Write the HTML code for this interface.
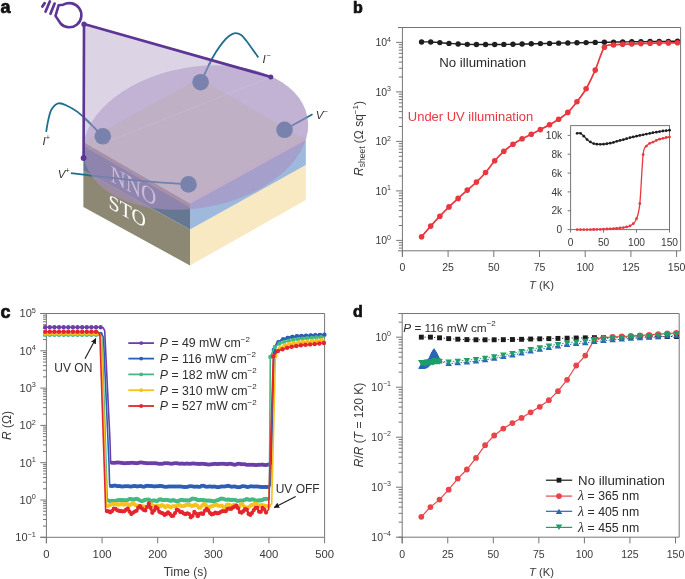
<!DOCTYPE html>
<html><head><meta charset="utf-8"><style>
html,body{margin:0;padding:0;background:#fff;}
svg{display:block;will-change:transform;}
</style></head><body>
<svg width="685" height="579" viewBox="0 0 685 579">
<rect width="685" height="579" fill="#fff"/>
<path d="M84 24 L271 77 L84 152 Z" fill="#dcd3e5"/>
<ellipse cx="195.69" cy="137.49" rx="113.6" ry="70.5" transform="rotate(-10.38 195.69 137.49)" fill="#e9eaf4"/>
<path d="M83.4 170.5 L190 229.6 L190 265.5 L83.4 207 Z" fill="#8d8874"/>
<path d="M83.4 142 L190 203.6 L190 229.6 L83.4 170.5 Z" fill="#667791"/>
<path d="M83.4 142 L190 203.6 L190 207.4 L83.4 146 Z" fill="#a69384"/>
<path d="M190 229.6 L305.8 165 L305.8 200 L190 265.5 Z" fill="#f8e9c2"/>
<path d="M190 203.6 L305.8 139.8 L305.8 165 L190 229.6 Z" fill="#9fb9dc"/>
<path d="M199.2 78.2 L305.8 139.8 L190 203.6 L83.4 142 Z" fill="#e2e3d0"/>
<path d="M190 203.6 L305.8 139.8 L305.8 136.2 L190 200.0 Z" fill="#ecd9cc"/>
<text transform="matrix(0.9 0.5 0 1 110.6 181.0)" font-family='"Liberation Serif", serif' font-size="23.5" fill="#ffffff">NNO</text>
<text transform="matrix(0.97 0.535 0 1 108.6 207.6)" font-family='"Liberation Serif", serif' font-size="20.5" fill="#ffffff">STO</text>
<path d="M46.2 131.8 C46.53 129.9 47.32 124.12 48.2 120.4 C49.08 116.68 49.78 112.35 51.5 109.5 C53.22 106.65 55.75 103.85 58.5 103.3 C61.25 102.75 64.83 104.77 68 106.2 C71.17 107.63 74.33 109.53 77.5 111.9 C80.67 114.27 84.15 117.72 87 120.4 C89.85 123.08 91.97 125.33 94.6 128 C97.23 130.67 101.43 135 102.8 136.4" fill="none" stroke="#1e6f8f" stroke-width="1.8"/>
<path d="M200.8 82 C202.62 78.23 209.12 64.48 211.7 59.4 C214.28 54.32 214.45 54.35 216.3 51.5 C218.15 48.65 220.62 44.92 222.8 42.3 C224.98 39.68 227.32 37.33 229.4 35.8 C231.48 34.27 233.33 33.22 235.3 33.1 C237.27 32.98 239.33 33.78 241.2 35.1 C243.07 36.42 244.73 38.82 246.5 41 C248.27 43.18 249.83 45.47 251.8 48.2 C253.77 50.93 257.22 55.87 258.3 57.4" fill="none" stroke="#1e6f8f" stroke-width="1.8"/>
<path d="M70.9 173.1 C73.88 173.47 81.45 174.45 88.8 175.3 C96.15 176.15 104.8 177.13 115 178.2 C125.2 179.27 137.73 180.67 150 181.7 C162.27 182.73 182.17 183.95 188.6 184.4" fill="none" stroke="#1e6f8f" stroke-width="1.8"/>
<line x1="284.5" y1="129.8" x2="312.5" y2="114.3" stroke="#1e6f8f" stroke-width="1.8"/>
<mask id="conem" maskUnits="userSpaceOnUse" x="0" y="0" width="685" height="579"><path d="M84 24 L271 77 L84 160 Z" fill="#fff"/><ellipse cx="195.69" cy="137.49" rx="113.6" ry="70.5" transform="rotate(-10.38 195.69 137.49)" fill="#000"/></mask>
<g mask="url(#conem)"><path d="M46.2 131.8 C46.53 129.9 47.32 124.12 48.2 120.4 C49.08 116.68 49.78 112.35 51.5 109.5 C53.22 106.65 55.75 103.85 58.5 103.3 C61.25 102.75 64.83 104.77 68 106.2 C71.17 107.63 74.33 109.53 77.5 111.9 C80.67 114.27 84.15 117.72 87 120.4 C89.85 123.08 91.97 125.33 94.6 128 C97.23 130.67 101.43 135 102.8 136.4" fill="none" stroke="#5b80a3" stroke-width="1.9"/><path d="M200.8 82 C202.62 78.23 209.12 64.48 211.7 59.4 C214.28 54.32 214.45 54.35 216.3 51.5 C218.15 48.65 220.62 44.92 222.8 42.3 C224.98 39.68 227.32 37.33 229.4 35.8 C231.48 34.27 233.33 33.22 235.3 33.1 C237.27 32.98 239.33 33.78 241.2 35.1 C243.07 36.42 244.73 38.82 246.5 41 C248.27 43.18 249.83 45.47 251.8 48.2 C253.77 50.93 257.22 55.87 258.3 57.4" fill="none" stroke="#5b80a3" stroke-width="1.9"/></g>
<circle cx="102.8" cy="136.3" r="8.3" fill="#33728f"/>
<circle cx="200.6" cy="82.2" r="8.3" fill="#33728f"/>
<circle cx="284.5" cy="129.8" r="8.3" fill="#33728f"/>
<circle cx="188.5" cy="184.4" r="8.3" fill="#33728f"/>
<ellipse cx="195.69" cy="137.49" rx="113.6" ry="70.5" transform="rotate(-10.38 195.69 137.49)" fill="rgb(169,142,192)" fill-opacity="0.6"/>
<line x1="84" y1="151" x2="271" y2="77" stroke="#ffffff" stroke-opacity="0.08" stroke-width="1.2"/>
<path d="M271 77 L84 24 L83.6 158" fill="none" stroke="#5c3595" stroke-width="2.65" stroke-linejoin="round"/>
<circle cx="84" cy="24.2" r="2.6" fill="#5c3595"/>
<circle cx="270.8" cy="77" r="2.5" fill="#5c3595"/>
<circle cx="83.6" cy="158" r="2.9" fill="#5c3595"/>
<path d="M58.6 5.3 L55.5 15.9 L60.74 23.76 A12.1 12.1 0 1 0 63.25 4.72 Z" fill="none" stroke="#5c3595" stroke-width="2.6" stroke-linejoin="round"/>
<line x1="42.4" y1="6.6" x2="44.6" y2="3.2" stroke="#5c3595" stroke-width="2.8" stroke-linecap="round"/>
<line x1="45.6" y1="11.5" x2="49.8" y2="1.5" stroke="#5c3595" stroke-width="2.7" stroke-linecap="round"/>
<line x1="50.5" y1="13.8" x2="54.6" y2="3.6" stroke="#5c3595" stroke-width="2.7" stroke-linecap="round"/>
<text x="42.6" y="145.1" font-family='"Liberation Sans", sans-serif' font-size="11.5" font-style="italic" fill="#333">I<tspan font-style="normal" font-size="7.5" dy="-5" dx="0">+</tspan></text>
<text x="57.8" y="177.5" font-family='"Liberation Sans", sans-serif' font-size="11.5" font-style="italic" fill="#333">V<tspan font-style="normal" font-size="7.5" dy="-5" dx="0">+</tspan></text>
<text x="262.4" y="63.3" font-family='"Liberation Sans", sans-serif' font-size="11.5" font-style="italic" fill="#333">I<tspan font-style="normal" font-size="7.5" dy="-5" dx="0.9">−</tspan></text>
<text x="315.8" y="118.6" font-family='"Liberation Sans", sans-serif' font-size="11.5" font-style="italic" fill="#333">V<tspan font-style="normal" font-size="7.5" dy="-5" dx="0">−</tspan></text>
<text x="0.5" y="13.3" font-size="18" text-anchor="start" fill="#111" font-family='"Liberation Sans", sans-serif' font-weight="bold" stroke="#111" stroke-width="0.7">a</text>
<text x="352.9" y="13" font-size="16" text-anchor="start" fill="#111" font-family='"Liberation Sans", sans-serif' font-weight="bold" stroke="#111" stroke-width="0.7">b</text>
<text x="0.5" y="317.9" font-size="18" text-anchor="start" fill="#111" font-family='"Liberation Sans", sans-serif' font-weight="bold" stroke="#111" stroke-width="0.7">c</text>
<text x="352.9" y="317.4" font-size="16" text-anchor="start" fill="#111" font-family='"Liberation Sans", sans-serif' font-weight="bold" stroke="#111" stroke-width="0.7">d</text>
<path d="M398.0 27.5 H680.6 V250.8 H398.0" fill="none" stroke="#767676" stroke-width="1"/>
<line x1="402.4" y1="27.5" x2="402.4" y2="257" stroke="#767676" stroke-width="1" />
<line x1="396.1" y1="240.4" x2="402.4" y2="240.4" stroke="#767676" stroke-width="1" />
<text x="391" y="244.1" font-size="10.5" text-anchor="end" fill="#3a3a3a" font-family='"Liberation Sans", sans-serif' >10<tspan dy="-4.6" font-size="7">0</tspan></text>
<line x1="398.8" y1="225.5" x2="402.4" y2="225.5" stroke="#767676" stroke-width="1" />
<line x1="398.8" y1="216.78" x2="402.4" y2="216.78" stroke="#767676" stroke-width="1" />
<line x1="398.8" y1="210.6" x2="402.4" y2="210.6" stroke="#767676" stroke-width="1" />
<line x1="398.8" y1="205.8" x2="402.4" y2="205.8" stroke="#767676" stroke-width="1" />
<line x1="398.8" y1="201.88" x2="402.4" y2="201.88" stroke="#767676" stroke-width="1" />
<line x1="398.8" y1="198.57" x2="402.4" y2="198.57" stroke="#767676" stroke-width="1" />
<line x1="398.8" y1="195.7" x2="402.4" y2="195.7" stroke="#767676" stroke-width="1" />
<line x1="398.8" y1="193.16" x2="402.4" y2="193.16" stroke="#767676" stroke-width="1" />
<line x1="396.1" y1="190.9" x2="402.4" y2="190.9" stroke="#767676" stroke-width="1" />
<text x="391" y="194.6" font-size="10.5" text-anchor="end" fill="#3a3a3a" font-family='"Liberation Sans", sans-serif' >10<tspan dy="-4.6" font-size="7">1</tspan></text>
<line x1="398.8" y1="176" x2="402.4" y2="176" stroke="#767676" stroke-width="1" />
<line x1="398.8" y1="167.28" x2="402.4" y2="167.28" stroke="#767676" stroke-width="1" />
<line x1="398.8" y1="161.1" x2="402.4" y2="161.1" stroke="#767676" stroke-width="1" />
<line x1="398.8" y1="156.3" x2="402.4" y2="156.3" stroke="#767676" stroke-width="1" />
<line x1="398.8" y1="152.38" x2="402.4" y2="152.38" stroke="#767676" stroke-width="1" />
<line x1="398.8" y1="149.07" x2="402.4" y2="149.07" stroke="#767676" stroke-width="1" />
<line x1="398.8" y1="146.2" x2="402.4" y2="146.2" stroke="#767676" stroke-width="1" />
<line x1="398.8" y1="143.66" x2="402.4" y2="143.66" stroke="#767676" stroke-width="1" />
<line x1="396.1" y1="141.4" x2="402.4" y2="141.4" stroke="#767676" stroke-width="1" />
<text x="391" y="145.1" font-size="10.5" text-anchor="end" fill="#3a3a3a" font-family='"Liberation Sans", sans-serif' >10<tspan dy="-4.6" font-size="7">2</tspan></text>
<line x1="398.8" y1="126.5" x2="402.4" y2="126.5" stroke="#767676" stroke-width="1" />
<line x1="398.8" y1="117.78" x2="402.4" y2="117.78" stroke="#767676" stroke-width="1" />
<line x1="398.8" y1="111.6" x2="402.4" y2="111.6" stroke="#767676" stroke-width="1" />
<line x1="398.8" y1="106.8" x2="402.4" y2="106.8" stroke="#767676" stroke-width="1" />
<line x1="398.8" y1="102.88" x2="402.4" y2="102.88" stroke="#767676" stroke-width="1" />
<line x1="398.8" y1="99.57" x2="402.4" y2="99.57" stroke="#767676" stroke-width="1" />
<line x1="398.8" y1="96.7" x2="402.4" y2="96.7" stroke="#767676" stroke-width="1" />
<line x1="398.8" y1="94.16" x2="402.4" y2="94.16" stroke="#767676" stroke-width="1" />
<line x1="396.1" y1="91.9" x2="402.4" y2="91.9" stroke="#767676" stroke-width="1" />
<text x="391" y="95.6" font-size="10.5" text-anchor="end" fill="#3a3a3a" font-family='"Liberation Sans", sans-serif' >10<tspan dy="-4.6" font-size="7">3</tspan></text>
<line x1="398.8" y1="77" x2="402.4" y2="77" stroke="#767676" stroke-width="1" />
<line x1="398.8" y1="68.28" x2="402.4" y2="68.28" stroke="#767676" stroke-width="1" />
<line x1="398.8" y1="62.1" x2="402.4" y2="62.1" stroke="#767676" stroke-width="1" />
<line x1="398.8" y1="57.3" x2="402.4" y2="57.3" stroke="#767676" stroke-width="1" />
<line x1="398.8" y1="53.38" x2="402.4" y2="53.38" stroke="#767676" stroke-width="1" />
<line x1="398.8" y1="50.07" x2="402.4" y2="50.07" stroke="#767676" stroke-width="1" />
<line x1="398.8" y1="47.2" x2="402.4" y2="47.2" stroke="#767676" stroke-width="1" />
<line x1="398.8" y1="44.66" x2="402.4" y2="44.66" stroke="#767676" stroke-width="1" />
<line x1="396.1" y1="42.4" x2="402.4" y2="42.4" stroke="#767676" stroke-width="1" />
<text x="391" y="46.1" font-size="10.5" text-anchor="end" fill="#3a3a3a" font-family='"Liberation Sans", sans-serif' >10<tspan dy="-4.6" font-size="7">4</tspan></text>
<line x1="398.8" y1="248.07" x2="402.4" y2="248.07" stroke="#767676" stroke-width="1" />
<line x1="398.8" y1="245.2" x2="402.4" y2="245.2" stroke="#767676" stroke-width="1" />
<line x1="398.8" y1="242.66" x2="402.4" y2="242.66" stroke="#767676" stroke-width="1" />
<line x1="402.4" y1="250.8" x2="402.4" y2="257" stroke="#767676" stroke-width="1" />
<text x="402.4" y="271.2" font-size="10.5" text-anchor="middle" fill="#3a3a3a" font-family='"Liberation Sans", sans-serif' >0</text>
<line x1="448.1" y1="250.8" x2="448.1" y2="257" stroke="#767676" stroke-width="1" />
<text x="448.1" y="271.2" font-size="10.5" text-anchor="middle" fill="#3a3a3a" font-family='"Liberation Sans", sans-serif' >25</text>
<line x1="493.8" y1="250.8" x2="493.8" y2="257" stroke="#767676" stroke-width="1" />
<text x="493.8" y="271.2" font-size="10.5" text-anchor="middle" fill="#3a3a3a" font-family='"Liberation Sans", sans-serif' >50</text>
<line x1="539.5" y1="250.8" x2="539.5" y2="257" stroke="#767676" stroke-width="1" />
<text x="539.5" y="271.2" font-size="10.5" text-anchor="middle" fill="#3a3a3a" font-family='"Liberation Sans", sans-serif' >75</text>
<line x1="585.2" y1="250.8" x2="585.2" y2="257" stroke="#767676" stroke-width="1" />
<text x="585.2" y="271.2" font-size="10.5" text-anchor="middle" fill="#3a3a3a" font-family='"Liberation Sans", sans-serif' >100</text>
<line x1="630.9" y1="250.8" x2="630.9" y2="257" stroke="#767676" stroke-width="1" />
<text x="630.9" y="271.2" font-size="10.5" text-anchor="middle" fill="#3a3a3a" font-family='"Liberation Sans", sans-serif' >125</text>
<line x1="676.6" y1="250.8" x2="676.6" y2="257" stroke="#767676" stroke-width="1" />
<text x="676.6" y="271.2" font-size="10.5" text-anchor="middle" fill="#3a3a3a" font-family='"Liberation Sans", sans-serif' >150</text>
<text x="541.5" y="289.3" font-size="11.2" text-anchor="middle" fill="#3a3a3a" font-family='"Liberation Sans", sans-serif' ><tspan font-style="italic">T</tspan> (K)</text>
<text transform="translate(362.8 138.5) rotate(-90)" font-size="12" text-anchor="middle" fill="#3a3a3a" font-family='"Liberation Sans", sans-serif'><tspan font-style="italic">R</tspan><tspan font-size="8.5" dy="2.5">sheet</tspan><tspan dy="-2.5"> (Ω sq</tspan><tspan font-size="8" dy="-4.5">−1</tspan><tspan dy="4.5">)</tspan></text>
<path d="M421.58 41.94 C423.1 41.94 427.67 41.83 430.72 41.94 C433.77 42.05 436.81 42.34 439.86 42.58 C442.91 42.83 445.95 43.16 449 43.39 C452.05 43.62 455.09 43.8 458.14 43.96 C461.19 44.12 464.23 44.26 467.28 44.36 C470.33 44.45 473.37 44.49 476.42 44.52 C479.47 44.55 482.51 44.55 485.56 44.55 C488.61 44.55 491.65 44.55 494.7 44.52 C497.75 44.5 500.79 44.45 503.84 44.41 C506.89 44.36 509.93 44.32 512.98 44.26 C516.03 44.21 519.07 44.15 522.12 44.07 C525.17 43.99 528.21 43.88 531.26 43.8 C534.31 43.72 537.35 43.66 540.4 43.59 C543.45 43.53 546.49 43.48 549.54 43.41 C552.59 43.34 555.63 43.24 558.68 43.17 C561.73 43.09 564.77 43.01 567.82 42.94 C570.87 42.88 573.91 42.83 576.96 42.77 C580.01 42.71 583.05 42.65 586.1 42.59 C589.15 42.54 592.19 42.48 595.24 42.42 C598.29 42.37 601.33 42.32 604.38 42.27 C607.43 42.22 610.47 42.15 613.52 42.1 C616.57 42.05 619.61 42.02 622.66 41.97 C625.71 41.93 628.75 41.86 631.8 41.81 C634.85 41.76 637.89 41.72 640.94 41.68 C643.99 41.64 647.03 41.6 650.08 41.56 C653.13 41.52 656.17 41.47 659.22 41.43 C662.27 41.4 665.31 41.38 668.36 41.35 C671.41 41.32 675.98 41.28 677.5 41.27" fill="none" stroke="#1e1e1e" stroke-width="1.4"/>
<circle cx="421.58" cy="41.94" r="2.7" fill="#1e1e1e"/>
<circle cx="430.72" cy="41.94" r="2.7" fill="#1e1e1e"/>
<circle cx="439.86" cy="42.58" r="2.7" fill="#1e1e1e"/>
<circle cx="449" cy="43.39" r="2.7" fill="#1e1e1e"/>
<circle cx="458.14" cy="43.96" r="2.7" fill="#1e1e1e"/>
<circle cx="467.28" cy="44.36" r="2.7" fill="#1e1e1e"/>
<circle cx="476.42" cy="44.52" r="2.7" fill="#1e1e1e"/>
<circle cx="485.56" cy="44.55" r="2.7" fill="#1e1e1e"/>
<circle cx="494.7" cy="44.52" r="2.7" fill="#1e1e1e"/>
<circle cx="503.84" cy="44.41" r="2.7" fill="#1e1e1e"/>
<circle cx="512.98" cy="44.26" r="2.7" fill="#1e1e1e"/>
<circle cx="522.12" cy="44.07" r="2.7" fill="#1e1e1e"/>
<circle cx="531.26" cy="43.8" r="2.7" fill="#1e1e1e"/>
<circle cx="540.4" cy="43.59" r="2.7" fill="#1e1e1e"/>
<circle cx="549.54" cy="43.41" r="2.7" fill="#1e1e1e"/>
<circle cx="558.68" cy="43.17" r="2.7" fill="#1e1e1e"/>
<circle cx="567.82" cy="42.94" r="2.7" fill="#1e1e1e"/>
<circle cx="576.96" cy="42.77" r="2.7" fill="#1e1e1e"/>
<circle cx="586.1" cy="42.59" r="2.7" fill="#1e1e1e"/>
<circle cx="595.24" cy="42.42" r="2.7" fill="#1e1e1e"/>
<circle cx="604.38" cy="42.27" r="2.7" fill="#1e1e1e"/>
<circle cx="613.52" cy="42.1" r="2.7" fill="#1e1e1e"/>
<circle cx="622.66" cy="41.97" r="2.7" fill="#1e1e1e"/>
<circle cx="631.8" cy="41.81" r="2.7" fill="#1e1e1e"/>
<circle cx="640.94" cy="41.68" r="2.7" fill="#1e1e1e"/>
<circle cx="650.08" cy="41.56" r="2.7" fill="#1e1e1e"/>
<circle cx="659.22" cy="41.43" r="2.7" fill="#1e1e1e"/>
<circle cx="668.36" cy="41.35" r="2.7" fill="#1e1e1e"/>
<circle cx="677.5" cy="41.27" r="2.7" fill="#1e1e1e"/>
<path d="M421.58 236.7 C423.1 234.93 427.67 229.52 430.72 226.1 C433.77 222.68 436.81 219.4 439.86 216.2 C442.91 213 445.95 209.87 449 206.9 C452.05 203.93 455.09 201.2 458.14 198.4 C461.19 195.6 464.23 192.82 467.28 190.1 C470.33 187.38 473.37 185.03 476.42 182.1 C479.47 179.17 482.51 176.05 485.56 172.5 C488.61 168.95 491.65 164.33 494.7 160.8 C497.75 157.27 500.79 154.05 503.84 151.3 C506.89 148.55 509.93 146.38 512.98 144.3 C516.03 142.22 519.07 140.48 522.12 138.8 C525.17 137.12 528.21 135.73 531.26 134.2 C534.31 132.67 537.35 131.17 540.4 129.6 C543.45 128.03 546.49 126.52 549.54 124.8 C552.59 123.08 555.63 121.37 558.68 119.3 C561.73 117.23 564.77 115.33 567.82 112.4 C570.87 109.47 573.91 105.65 576.96 101.7 C580.01 97.75 583.05 93.97 586.1 88.7 C589.15 83.43 592.19 77 595.24 70.1 C598.29 63.2 601.33 51.48 604.38 47.3 C607.43 43.12 610.47 45.5 613.52 45 C616.57 44.5 619.61 44.47 622.66 44.3 C625.71 44.13 628.75 44.12 631.8 44 C634.85 43.88 637.89 43.72 640.94 43.6 C643.99 43.48 647.03 43.38 650.08 43.3 C653.13 43.22 656.17 43.17 659.22 43.1 C662.27 43.03 665.31 42.95 668.36 42.9 C671.41 42.85 675.98 42.82 677.5 42.8" fill="none" stroke="#e8373f" stroke-width="1.7"/>
<circle cx="421.58" cy="236.7" r="2.8" fill="#e8373f"/>
<circle cx="430.72" cy="226.1" r="2.8" fill="#e8373f"/>
<circle cx="439.86" cy="216.2" r="2.8" fill="#e8373f"/>
<circle cx="449" cy="206.9" r="2.8" fill="#e8373f"/>
<circle cx="458.14" cy="198.4" r="2.8" fill="#e8373f"/>
<circle cx="467.28" cy="190.1" r="2.8" fill="#e8373f"/>
<circle cx="476.42" cy="182.1" r="2.8" fill="#e8373f"/>
<circle cx="485.56" cy="172.5" r="2.8" fill="#e8373f"/>
<circle cx="494.7" cy="160.8" r="2.8" fill="#e8373f"/>
<circle cx="503.84" cy="151.3" r="2.8" fill="#e8373f"/>
<circle cx="512.98" cy="144.3" r="2.8" fill="#e8373f"/>
<circle cx="522.12" cy="138.8" r="2.8" fill="#e8373f"/>
<circle cx="531.26" cy="134.2" r="2.8" fill="#e8373f"/>
<circle cx="540.4" cy="129.6" r="2.8" fill="#e8373f"/>
<circle cx="549.54" cy="124.8" r="2.8" fill="#e8373f"/>
<circle cx="558.68" cy="119.3" r="2.8" fill="#e8373f"/>
<circle cx="567.82" cy="112.4" r="2.8" fill="#e8373f"/>
<circle cx="576.96" cy="101.7" r="2.8" fill="#e8373f"/>
<circle cx="586.1" cy="88.7" r="2.8" fill="#e8373f"/>
<circle cx="595.24" cy="70.1" r="2.8" fill="#e8373f"/>
<circle cx="604.38" cy="47.3" r="2.8" fill="#e8373f"/>
<circle cx="613.52" cy="45" r="2.8" fill="#e8373f"/>
<circle cx="622.66" cy="44.3" r="2.8" fill="#e8373f"/>
<circle cx="631.8" cy="44" r="2.8" fill="#e8373f"/>
<circle cx="640.94" cy="43.6" r="2.8" fill="#e8373f"/>
<circle cx="650.08" cy="43.3" r="2.8" fill="#e8373f"/>
<circle cx="659.22" cy="43.1" r="2.8" fill="#e8373f"/>
<circle cx="668.36" cy="42.9" r="2.8" fill="#e8373f"/>
<circle cx="677.5" cy="42.8" r="2.8" fill="#e8373f"/>
<text x="439.2" y="66.6" font-size="12" text-anchor="start" fill="#2a2a2a" font-family='"Liberation Sans", sans-serif' textLength="86.9" lengthAdjust="spacingAndGlyphs">No illumination</text>
<text x="407.8" y="121.2" font-size="12" text-anchor="start" fill="#e8373f" font-family='"Liberation Sans", sans-serif' textLength="125.5" lengthAdjust="spacingAndGlyphs">Under UV illumination</text>
<rect x="570.6" y="125.6" width="98.89999999999998" height="104.0" fill="#fff" stroke="#767676" stroke-width="1"/>
<line x1="567.6" y1="229.6" x2="570.6" y2="229.6" stroke="#767676" stroke-width="1" />
<text x="562.2" y="233.2" font-size="10.2" text-anchor="end" fill="#3a3a3a" font-family='"Liberation Sans", sans-serif' >0</text>
<line x1="567.6" y1="210.75" x2="570.6" y2="210.75" stroke="#767676" stroke-width="1" />
<text x="562.2" y="214.35" font-size="10.2" text-anchor="end" fill="#3a3a3a" font-family='"Liberation Sans", sans-serif' >2k</text>
<line x1="567.6" y1="191.9" x2="570.6" y2="191.9" stroke="#767676" stroke-width="1" />
<text x="562.2" y="195.5" font-size="10.2" text-anchor="end" fill="#3a3a3a" font-family='"Liberation Sans", sans-serif' >4k</text>
<line x1="567.6" y1="173.05" x2="570.6" y2="173.05" stroke="#767676" stroke-width="1" />
<text x="562.2" y="176.65" font-size="10.2" text-anchor="end" fill="#3a3a3a" font-family='"Liberation Sans", sans-serif' >6k</text>
<line x1="567.6" y1="154.2" x2="570.6" y2="154.2" stroke="#767676" stroke-width="1" />
<text x="562.2" y="157.8" font-size="10.2" text-anchor="end" fill="#3a3a3a" font-family='"Liberation Sans", sans-serif' >8k</text>
<line x1="567.6" y1="135.35" x2="570.6" y2="135.35" stroke="#767676" stroke-width="1" />
<text x="562.2" y="138.95" font-size="10.2" text-anchor="end" fill="#3a3a3a" font-family='"Liberation Sans", sans-serif' >10k</text>
<line x1="570.6" y1="229.6" x2="570.6" y2="232.6" stroke="#767676" stroke-width="1" />
<text x="570.6" y="246.3" font-size="10.2" text-anchor="middle" fill="#3a3a3a" font-family='"Liberation Sans", sans-serif' >0</text>
<line x1="603.57" y1="229.6" x2="603.57" y2="232.6" stroke="#767676" stroke-width="1" />
<text x="603.57" y="246.3" font-size="10.2" text-anchor="middle" fill="#3a3a3a" font-family='"Liberation Sans", sans-serif' >50</text>
<line x1="636.53" y1="229.6" x2="636.53" y2="232.6" stroke="#767676" stroke-width="1" />
<text x="636.53" y="246.3" font-size="10.2" text-anchor="middle" fill="#3a3a3a" font-family='"Liberation Sans", sans-serif' >100</text>
<line x1="669.5" y1="229.6" x2="669.5" y2="232.6" stroke="#767676" stroke-width="1" />
<text x="669.5" y="246.3" font-size="10.2" text-anchor="middle" fill="#3a3a3a" font-family='"Liberation Sans", sans-serif' >150</text>
<path d="M577.19 133.3 C577.74 133.3 579.39 132.83 580.49 133.3 C581.59 133.78 582.69 135.1 583.79 136.15 C584.89 137.2 585.98 138.63 587.08 139.59 C588.18 140.56 589.28 141.29 590.38 141.95 C591.48 142.61 592.58 143.17 593.68 143.55 C594.78 143.93 595.87 144.08 596.97 144.21 C598.07 144.34 599.17 144.3 600.27 144.3 C601.37 144.3 602.47 144.3 603.57 144.21 C604.67 144.12 605.76 143.92 606.86 143.75 C607.96 143.57 609.06 143.4 610.16 143.17 C611.26 142.95 612.36 142.71 613.46 142.4 C614.56 142.09 615.65 141.61 616.75 141.29 C617.85 140.96 618.95 140.71 620.05 140.44 C621.15 140.17 622.25 139.98 623.35 139.69 C624.45 139.39 625.54 138.98 626.64 138.65 C627.74 138.32 628.84 137.99 629.94 137.71 C631.04 137.42 632.14 137.2 633.24 136.95 C634.34 136.7 635.43 136.45 636.53 136.2 C637.63 135.95 638.73 135.68 639.83 135.44 C640.93 135.21 642.03 135.02 643.13 134.78 C644.23 134.55 645.32 134.25 646.42 134.03 C647.52 133.81 648.62 133.68 649.72 133.46 C650.82 133.25 651.92 132.93 653.02 132.71 C654.12 132.49 655.21 132.33 656.31 132.15 C657.41 131.96 658.51 131.77 659.61 131.58 C660.71 131.39 661.81 131.17 662.91 131.01 C664.01 130.86 665.1 130.76 666.2 130.64 C667.3 130.51 668.95 130.32 669.5 130.26" fill="none" stroke="#1e1e1e" stroke-width="1.2"/>
<circle cx="577.19" cy="133.3" r="1.4" fill="#1e1e1e"/>
<circle cx="580.49" cy="133.3" r="1.4" fill="#1e1e1e"/>
<circle cx="583.79" cy="136.15" r="1.4" fill="#1e1e1e"/>
<circle cx="587.08" cy="139.59" r="1.4" fill="#1e1e1e"/>
<circle cx="590.38" cy="141.95" r="1.4" fill="#1e1e1e"/>
<circle cx="593.68" cy="143.55" r="1.4" fill="#1e1e1e"/>
<circle cx="596.97" cy="144.21" r="1.4" fill="#1e1e1e"/>
<circle cx="600.27" cy="144.3" r="1.4" fill="#1e1e1e"/>
<circle cx="603.57" cy="144.21" r="1.4" fill="#1e1e1e"/>
<circle cx="606.86" cy="143.75" r="1.4" fill="#1e1e1e"/>
<circle cx="610.16" cy="143.17" r="1.4" fill="#1e1e1e"/>
<circle cx="613.46" cy="142.4" r="1.4" fill="#1e1e1e"/>
<circle cx="616.75" cy="141.29" r="1.4" fill="#1e1e1e"/>
<circle cx="620.05" cy="140.44" r="1.4" fill="#1e1e1e"/>
<circle cx="623.35" cy="139.69" r="1.4" fill="#1e1e1e"/>
<circle cx="626.64" cy="138.65" r="1.4" fill="#1e1e1e"/>
<circle cx="629.94" cy="137.71" r="1.4" fill="#1e1e1e"/>
<circle cx="633.24" cy="136.95" r="1.4" fill="#1e1e1e"/>
<circle cx="636.53" cy="136.2" r="1.4" fill="#1e1e1e"/>
<circle cx="639.83" cy="135.44" r="1.4" fill="#1e1e1e"/>
<circle cx="643.13" cy="134.78" r="1.4" fill="#1e1e1e"/>
<circle cx="646.42" cy="134.03" r="1.4" fill="#1e1e1e"/>
<circle cx="649.72" cy="133.46" r="1.4" fill="#1e1e1e"/>
<circle cx="653.02" cy="132.71" r="1.4" fill="#1e1e1e"/>
<circle cx="656.31" cy="132.15" r="1.4" fill="#1e1e1e"/>
<circle cx="659.61" cy="131.58" r="1.4" fill="#1e1e1e"/>
<circle cx="662.91" cy="131.01" r="1.4" fill="#1e1e1e"/>
<circle cx="666.2" cy="130.64" r="1.4" fill="#1e1e1e"/>
<circle cx="669.5" cy="130.26" r="1.4" fill="#1e1e1e"/>
<path d="M577.19 229.59 C577.74 229.59 579.39 229.58 580.49 229.58 C581.59 229.58 582.69 229.58 583.79 229.57 C584.89 229.57 585.98 229.56 587.08 229.56 C588.18 229.55 589.28 229.54 590.38 229.53 C591.48 229.52 592.58 229.51 593.68 229.5 C594.78 229.49 595.87 229.48 596.97 229.46 C598.07 229.44 599.17 229.42 600.27 229.38 C601.37 229.34 602.47 229.28 603.57 229.22 C604.67 229.16 605.76 229.08 606.86 229.01 C607.96 228.93 609.06 228.85 610.16 228.78 C611.26 228.7 612.36 228.62 613.46 228.54 C614.56 228.45 615.65 228.38 616.75 228.28 C617.85 228.19 618.95 228.09 620.05 227.97 C621.15 227.85 622.25 227.73 623.35 227.56 C624.45 227.39 625.54 227.23 626.64 226.97 C627.74 226.7 628.84 226.52 629.94 225.97 C631.04 225.41 632.14 224.84 633.24 223.63 C634.34 222.41 635.43 222 636.53 218.66 C637.63 215.33 638.73 214.3 639.83 203.62 C640.93 192.93 642.03 164.15 643.13 154.56 C644.23 144.97 645.32 147.96 646.42 146.09 C647.52 144.21 648.62 143.99 649.72 143.32 C650.82 142.66 651.92 142.59 653.02 142.11 C654.12 141.63 655.21 140.95 656.31 140.47 C657.41 139.98 658.51 139.56 659.61 139.21 C660.71 138.86 661.81 138.65 662.91 138.37 C664.01 138.09 665.1 137.73 666.2 137.52 C667.3 137.3 668.95 137.16 669.5 137.09" fill="none" stroke="#e8373f" stroke-width="1.3"/>
<circle cx="577.19" cy="229.59" r="1.4" fill="#e8373f"/>
<circle cx="580.49" cy="229.58" r="1.4" fill="#e8373f"/>
<circle cx="583.79" cy="229.57" r="1.4" fill="#e8373f"/>
<circle cx="587.08" cy="229.56" r="1.4" fill="#e8373f"/>
<circle cx="590.38" cy="229.53" r="1.4" fill="#e8373f"/>
<circle cx="593.68" cy="229.5" r="1.4" fill="#e8373f"/>
<circle cx="596.97" cy="229.46" r="1.4" fill="#e8373f"/>
<circle cx="600.27" cy="229.38" r="1.4" fill="#e8373f"/>
<circle cx="603.57" cy="229.22" r="1.4" fill="#e8373f"/>
<circle cx="606.86" cy="229.01" r="1.4" fill="#e8373f"/>
<circle cx="610.16" cy="228.78" r="1.4" fill="#e8373f"/>
<circle cx="613.46" cy="228.54" r="1.4" fill="#e8373f"/>
<circle cx="616.75" cy="228.28" r="1.4" fill="#e8373f"/>
<circle cx="620.05" cy="227.97" r="1.4" fill="#e8373f"/>
<circle cx="623.35" cy="227.56" r="1.4" fill="#e8373f"/>
<circle cx="626.64" cy="226.97" r="1.4" fill="#e8373f"/>
<circle cx="629.94" cy="225.97" r="1.4" fill="#e8373f"/>
<circle cx="633.24" cy="223.63" r="1.4" fill="#e8373f"/>
<circle cx="636.53" cy="218.66" r="1.4" fill="#e8373f"/>
<circle cx="639.83" cy="203.62" r="1.4" fill="#e8373f"/>
<circle cx="643.13" cy="154.56" r="1.4" fill="#e8373f"/>
<circle cx="646.42" cy="146.09" r="1.4" fill="#e8373f"/>
<circle cx="649.72" cy="143.32" r="1.4" fill="#e8373f"/>
<circle cx="653.02" cy="142.11" r="1.4" fill="#e8373f"/>
<circle cx="656.31" cy="140.47" r="1.4" fill="#e8373f"/>
<circle cx="659.61" cy="139.21" r="1.4" fill="#e8373f"/>
<circle cx="662.91" cy="138.37" r="1.4" fill="#e8373f"/>
<circle cx="666.2" cy="137.52" r="1.4" fill="#e8373f"/>
<circle cx="669.5" cy="137.09" r="1.4" fill="#e8373f"/>
<path d="M40.3 313.5 H324.6 V537.3 H40.3" fill="none" stroke="#767676" stroke-width="1"/>
<line x1="46.4" y1="313.5" x2="46.4" y2="543.3" stroke="#767676" stroke-width="1" />
<line x1="40.3" y1="537.3" x2="46.4" y2="537.3" stroke="#767676" stroke-width="1" />
<text x="35.9" y="541.1" font-size="11" text-anchor="end" fill="#3a3a3a" font-family='"Liberation Sans", sans-serif' >10<tspan dy="-4.6" font-size="7.3">−1</tspan></text>
<line x1="43" y1="526.07" x2="46.4" y2="526.07" stroke="#767676" stroke-width="1" />
<line x1="43" y1="519.5" x2="46.4" y2="519.5" stroke="#767676" stroke-width="1" />
<line x1="43" y1="514.84" x2="46.4" y2="514.84" stroke="#767676" stroke-width="1" />
<line x1="43" y1="511.23" x2="46.4" y2="511.23" stroke="#767676" stroke-width="1" />
<line x1="43" y1="508.27" x2="46.4" y2="508.27" stroke="#767676" stroke-width="1" />
<line x1="43" y1="505.78" x2="46.4" y2="505.78" stroke="#767676" stroke-width="1" />
<line x1="43" y1="503.61" x2="46.4" y2="503.61" stroke="#767676" stroke-width="1" />
<line x1="43" y1="501.71" x2="46.4" y2="501.71" stroke="#767676" stroke-width="1" />
<line x1="40.3" y1="500" x2="46.4" y2="500" stroke="#767676" stroke-width="1" />
<text x="35.9" y="503.8" font-size="11" text-anchor="end" fill="#3a3a3a" font-family='"Liberation Sans", sans-serif' >10<tspan dy="-4.6" font-size="7.3">0</tspan></text>
<line x1="43" y1="488.77" x2="46.4" y2="488.77" stroke="#767676" stroke-width="1" />
<line x1="43" y1="482.2" x2="46.4" y2="482.2" stroke="#767676" stroke-width="1" />
<line x1="43" y1="477.54" x2="46.4" y2="477.54" stroke="#767676" stroke-width="1" />
<line x1="43" y1="473.93" x2="46.4" y2="473.93" stroke="#767676" stroke-width="1" />
<line x1="43" y1="470.97" x2="46.4" y2="470.97" stroke="#767676" stroke-width="1" />
<line x1="43" y1="468.48" x2="46.4" y2="468.48" stroke="#767676" stroke-width="1" />
<line x1="43" y1="466.31" x2="46.4" y2="466.31" stroke="#767676" stroke-width="1" />
<line x1="43" y1="464.41" x2="46.4" y2="464.41" stroke="#767676" stroke-width="1" />
<line x1="40.3" y1="462.7" x2="46.4" y2="462.7" stroke="#767676" stroke-width="1" />
<text x="35.9" y="466.5" font-size="11" text-anchor="end" fill="#3a3a3a" font-family='"Liberation Sans", sans-serif' >10<tspan dy="-4.6" font-size="7.3">1</tspan></text>
<line x1="43" y1="451.47" x2="46.4" y2="451.47" stroke="#767676" stroke-width="1" />
<line x1="43" y1="444.9" x2="46.4" y2="444.9" stroke="#767676" stroke-width="1" />
<line x1="43" y1="440.24" x2="46.4" y2="440.24" stroke="#767676" stroke-width="1" />
<line x1="43" y1="436.63" x2="46.4" y2="436.63" stroke="#767676" stroke-width="1" />
<line x1="43" y1="433.67" x2="46.4" y2="433.67" stroke="#767676" stroke-width="1" />
<line x1="43" y1="431.18" x2="46.4" y2="431.18" stroke="#767676" stroke-width="1" />
<line x1="43" y1="429.01" x2="46.4" y2="429.01" stroke="#767676" stroke-width="1" />
<line x1="43" y1="427.11" x2="46.4" y2="427.11" stroke="#767676" stroke-width="1" />
<line x1="40.3" y1="425.4" x2="46.4" y2="425.4" stroke="#767676" stroke-width="1" />
<text x="35.9" y="429.2" font-size="11" text-anchor="end" fill="#3a3a3a" font-family='"Liberation Sans", sans-serif' >10<tspan dy="-4.6" font-size="7.3">2</tspan></text>
<line x1="43" y1="414.17" x2="46.4" y2="414.17" stroke="#767676" stroke-width="1" />
<line x1="43" y1="407.6" x2="46.4" y2="407.6" stroke="#767676" stroke-width="1" />
<line x1="43" y1="402.94" x2="46.4" y2="402.94" stroke="#767676" stroke-width="1" />
<line x1="43" y1="399.33" x2="46.4" y2="399.33" stroke="#767676" stroke-width="1" />
<line x1="43" y1="396.37" x2="46.4" y2="396.37" stroke="#767676" stroke-width="1" />
<line x1="43" y1="393.88" x2="46.4" y2="393.88" stroke="#767676" stroke-width="1" />
<line x1="43" y1="391.71" x2="46.4" y2="391.71" stroke="#767676" stroke-width="1" />
<line x1="43" y1="389.81" x2="46.4" y2="389.81" stroke="#767676" stroke-width="1" />
<line x1="40.3" y1="388.1" x2="46.4" y2="388.1" stroke="#767676" stroke-width="1" />
<text x="35.9" y="391.9" font-size="11" text-anchor="end" fill="#3a3a3a" font-family='"Liberation Sans", sans-serif' >10<tspan dy="-4.6" font-size="7.3">3</tspan></text>
<line x1="43" y1="376.87" x2="46.4" y2="376.87" stroke="#767676" stroke-width="1" />
<line x1="43" y1="370.3" x2="46.4" y2="370.3" stroke="#767676" stroke-width="1" />
<line x1="43" y1="365.64" x2="46.4" y2="365.64" stroke="#767676" stroke-width="1" />
<line x1="43" y1="362.03" x2="46.4" y2="362.03" stroke="#767676" stroke-width="1" />
<line x1="43" y1="359.07" x2="46.4" y2="359.07" stroke="#767676" stroke-width="1" />
<line x1="43" y1="356.58" x2="46.4" y2="356.58" stroke="#767676" stroke-width="1" />
<line x1="43" y1="354.41" x2="46.4" y2="354.41" stroke="#767676" stroke-width="1" />
<line x1="43" y1="352.51" x2="46.4" y2="352.51" stroke="#767676" stroke-width="1" />
<line x1="40.3" y1="350.8" x2="46.4" y2="350.8" stroke="#767676" stroke-width="1" />
<text x="35.9" y="354.6" font-size="11" text-anchor="end" fill="#3a3a3a" font-family='"Liberation Sans", sans-serif' >10<tspan dy="-4.6" font-size="7.3">4</tspan></text>
<line x1="43" y1="339.57" x2="46.4" y2="339.57" stroke="#767676" stroke-width="1" />
<line x1="43" y1="333" x2="46.4" y2="333" stroke="#767676" stroke-width="1" />
<line x1="43" y1="328.34" x2="46.4" y2="328.34" stroke="#767676" stroke-width="1" />
<line x1="43" y1="324.73" x2="46.4" y2="324.73" stroke="#767676" stroke-width="1" />
<line x1="43" y1="321.77" x2="46.4" y2="321.77" stroke="#767676" stroke-width="1" />
<line x1="43" y1="319.28" x2="46.4" y2="319.28" stroke="#767676" stroke-width="1" />
<line x1="43" y1="317.11" x2="46.4" y2="317.11" stroke="#767676" stroke-width="1" />
<line x1="43" y1="315.21" x2="46.4" y2="315.21" stroke="#767676" stroke-width="1" />
<line x1="40.3" y1="313.5" x2="46.4" y2="313.5" stroke="#767676" stroke-width="1" />
<text x="35.9" y="317.3" font-size="11" text-anchor="end" fill="#3a3a3a" font-family='"Liberation Sans", sans-serif' >10<tspan dy="-4.6" font-size="7.3">5</tspan></text>
<line x1="46.4" y1="537.3" x2="46.4" y2="543.3" stroke="#767676" stroke-width="1" />
<text x="46.4" y="557.9" font-size="11.3" text-anchor="middle" fill="#3a3a3a" font-family='"Liberation Sans", sans-serif' >0</text>
<line x1="102.04" y1="537.3" x2="102.04" y2="543.3" stroke="#767676" stroke-width="1" />
<text x="102.04" y="557.9" font-size="11.3" text-anchor="middle" fill="#3a3a3a" font-family='"Liberation Sans", sans-serif' >100</text>
<line x1="157.68" y1="537.3" x2="157.68" y2="543.3" stroke="#767676" stroke-width="1" />
<text x="157.68" y="557.9" font-size="11.3" text-anchor="middle" fill="#3a3a3a" font-family='"Liberation Sans", sans-serif' >200</text>
<line x1="213.32" y1="537.3" x2="213.32" y2="543.3" stroke="#767676" stroke-width="1" />
<text x="213.32" y="557.9" font-size="11.3" text-anchor="middle" fill="#3a3a3a" font-family='"Liberation Sans", sans-serif' >300</text>
<line x1="268.96" y1="537.3" x2="268.96" y2="543.3" stroke="#767676" stroke-width="1" />
<text x="268.96" y="557.9" font-size="11.3" text-anchor="middle" fill="#3a3a3a" font-family='"Liberation Sans", sans-serif' >400</text>
<line x1="324.6" y1="537.3" x2="324.6" y2="543.3" stroke="#767676" stroke-width="1" />
<text x="324.6" y="557.9" font-size="11.3" text-anchor="middle" fill="#3a3a3a" font-family='"Liberation Sans", sans-serif' >500</text>
<text x="185.5" y="575.8" font-size="12" text-anchor="middle" fill="#3a3a3a" font-family='"Liberation Sans", sans-serif' >Time (s)</text>
<text transform="translate(10.9 425.4) rotate(-90)" font-size="12" text-anchor="middle" fill="#3a3a3a" font-family='"Liberation Sans", sans-serif'><tspan font-style="italic">R</tspan> (Ω)</text>
<path d="M45.2 327.3 L49.82 327.3 L54.44 327.3 L59.06 327.3 L63.68 327.3 L68.3 327.3 L72.92 327.3 L77.54 327.3 L82.16 327.3 L86.78 327.3 L91.4 327.3 L96.02 327.3 L100.64 327.3 L103.2 327.7 L104.7 330.8 L110 440.7 L110.6 461.2 L111.8 462.73 L113.55 462.8 L115.3 462.73 L117.05 462.6 L118.8 462.55 L120.55 462.8 L122.3 463.12 L124.05 463.19 L125.8 463.19 L127.55 463.12 L129.3 463.08 L131.05 462.87 L132.8 462.74 L134.55 463.08 L136.3 463.29 L138.05 463.04 L139.8 462.59 L141.55 462.46 L143.3 462.7 L145.05 462.99 L146.8 463.19 L148.55 463.27 L150.3 463.26 L152.05 463.19 L153.8 463.31 L155.55 463.34 L157.3 463.39 L159.05 463.69 L160.8 463.78 L162.55 463.63 L164.3 463.31 L166.05 463.16 L167.8 463.28 L169.55 463.48 L171.3 463.64 L173.05 463.59 L174.8 463.37 L176.55 463.25 L178.3 463.5 L180.05 463.73 L181.8 463.61 L183.55 463.67 L185.3 463.64 L187.05 463.43 L188.8 463.71 L190.55 463.82 L192.3 463.43 L194.05 463.5 L195.8 463.67 L197.55 463.7 L199.3 463.88 L201.05 463.77 L202.8 463.67 L204.55 464.02 L206.3 464.28 L208.05 464.4 L209.8 464.44 L211.55 464.26 L213.3 463.97 L215.05 463.86 L216.8 464.02 L218.55 464 L220.3 463.84 L222.05 463.73 L223.8 463.78 L225.55 464.12 L227.3 464.24 L229.05 463.79 L230.8 463.77 L232.55 464.34 L234.3 464.71 L236.05 464.42 L237.8 463.75 L239.55 463.68 L241.3 464.15 L243.05 464.19 L244.8 464.24 L246.55 464.69 L248.3 464.86 L250.05 464.7 L251.8 464.66 L253.55 464.85 L255.3 465.05 L257.05 464.97 L258.8 464.87 L260.55 464.67 L262.3 464.53 L264.05 464.92 L265.8 465.12 L267.55 464.76 L269.3 464.33 L271.3 463.3 L274.2 352 L276.3 344.5 L281.2 340.3 L286 338.4 L291.4 337.2 L296.3 336.5 L305 335.9 L315 335.4 L324.6 335" fill="none" stroke="#6b3fa6" stroke-width="1.6" stroke-linejoin="round"/>
<circle cx="45.2" cy="327.3" r="2.2" fill="#6b3fa6"/>
<circle cx="49.82" cy="327.3" r="2.2" fill="#6b3fa6"/>
<circle cx="54.44" cy="327.3" r="2.2" fill="#6b3fa6"/>
<circle cx="59.06" cy="327.3" r="2.2" fill="#6b3fa6"/>
<circle cx="63.68" cy="327.3" r="2.2" fill="#6b3fa6"/>
<circle cx="68.3" cy="327.3" r="2.2" fill="#6b3fa6"/>
<circle cx="72.92" cy="327.3" r="2.2" fill="#6b3fa6"/>
<circle cx="77.54" cy="327.3" r="2.2" fill="#6b3fa6"/>
<circle cx="82.16" cy="327.3" r="2.2" fill="#6b3fa6"/>
<circle cx="86.78" cy="327.3" r="2.2" fill="#6b3fa6"/>
<circle cx="91.4" cy="327.3" r="2.2" fill="#6b3fa6"/>
<circle cx="96.02" cy="327.3" r="2.2" fill="#6b3fa6"/>
<circle cx="100.64" cy="327.3" r="2.2" fill="#6b3fa6"/>
<circle cx="274.2" cy="352" r="2.2" fill="#6b3fa6"/>
<circle cx="278.8" cy="342.36" r="2.2" fill="#6b3fa6"/>
<circle cx="283.4" cy="339.43" r="2.2" fill="#6b3fa6"/>
<circle cx="288" cy="337.96" r="2.2" fill="#6b3fa6"/>
<circle cx="292.6" cy="337.03" r="2.2" fill="#6b3fa6"/>
<circle cx="297.2" cy="336.44" r="2.2" fill="#6b3fa6"/>
<circle cx="301.8" cy="336.12" r="2.2" fill="#6b3fa6"/>
<circle cx="306.4" cy="335.83" r="2.2" fill="#6b3fa6"/>
<circle cx="311" cy="335.6" r="2.2" fill="#6b3fa6"/>
<circle cx="315.6" cy="335.37" r="2.2" fill="#6b3fa6"/>
<circle cx="320.2" cy="335.18" r="2.2" fill="#6b3fa6"/>
<path d="M111.8 462.73 L113.55 462.8 L115.3 462.73 L117.05 462.6 L118.8 462.55 L120.55 462.8 L122.3 463.12 L124.05 463.19 L125.8 463.19 L127.55 463.12 L129.3 463.08 L131.05 462.87 L132.8 462.74 L134.55 463.08 L136.3 463.29 L138.05 463.04 L139.8 462.59 L141.55 462.46 L143.3 462.7 L145.05 462.99 L146.8 463.19 L148.55 463.27 L150.3 463.26 L152.05 463.19 L153.8 463.31 L155.55 463.34 L157.3 463.39 L159.05 463.69 L160.8 463.78 L162.55 463.63 L164.3 463.31 L166.05 463.16 L167.8 463.28 L169.55 463.48 L171.3 463.64 L173.05 463.59 L174.8 463.37 L176.55 463.25 L178.3 463.5 L180.05 463.73 L181.8 463.61 L183.55 463.67 L185.3 463.64 L187.05 463.43 L188.8 463.71 L190.55 463.82 L192.3 463.43 L194.05 463.5 L195.8 463.67 L197.55 463.7 L199.3 463.88 L201.05 463.77 L202.8 463.67 L204.55 464.02 L206.3 464.28 L208.05 464.4 L209.8 464.44 L211.55 464.26 L213.3 463.97 L215.05 463.86 L216.8 464.02 L218.55 464 L220.3 463.84 L222.05 463.73 L223.8 463.78 L225.55 464.12 L227.3 464.24 L229.05 463.79 L230.8 463.77 L232.55 464.34 L234.3 464.71 L236.05 464.42 L237.8 463.75 L239.55 463.68 L241.3 464.15 L243.05 464.19 L244.8 464.24 L246.55 464.69 L248.3 464.86 L250.05 464.7 L251.8 464.66 L253.55 464.85 L255.3 465.05 L257.05 464.97 L258.8 464.87 L260.55 464.67 L262.3 464.53 L264.05 464.92 L265.8 465.12 L267.55 464.76 L269.3 464.33" fill="none" stroke="#6b3fa6" stroke-width="2.2" stroke-linejoin="round"/>
<circle cx="111.8" cy="462.73" r="2.0" fill="#6b3fa6"/>
<circle cx="113.55" cy="462.8" r="2.0" fill="#6b3fa6"/>
<circle cx="115.3" cy="462.73" r="2.0" fill="#6b3fa6"/>
<circle cx="117.05" cy="462.6" r="2.0" fill="#6b3fa6"/>
<circle cx="118.8" cy="462.55" r="2.0" fill="#6b3fa6"/>
<circle cx="120.55" cy="462.8" r="2.0" fill="#6b3fa6"/>
<circle cx="122.3" cy="463.12" r="2.0" fill="#6b3fa6"/>
<circle cx="124.05" cy="463.19" r="2.0" fill="#6b3fa6"/>
<circle cx="125.8" cy="463.19" r="2.0" fill="#6b3fa6"/>
<circle cx="127.55" cy="463.12" r="2.0" fill="#6b3fa6"/>
<circle cx="129.3" cy="463.08" r="2.0" fill="#6b3fa6"/>
<circle cx="131.05" cy="462.87" r="2.0" fill="#6b3fa6"/>
<circle cx="132.8" cy="462.74" r="2.0" fill="#6b3fa6"/>
<circle cx="134.55" cy="463.08" r="2.0" fill="#6b3fa6"/>
<circle cx="136.3" cy="463.29" r="2.0" fill="#6b3fa6"/>
<circle cx="138.05" cy="463.04" r="2.0" fill="#6b3fa6"/>
<circle cx="139.8" cy="462.59" r="2.0" fill="#6b3fa6"/>
<circle cx="141.55" cy="462.46" r="2.0" fill="#6b3fa6"/>
<circle cx="143.3" cy="462.7" r="2.0" fill="#6b3fa6"/>
<circle cx="145.05" cy="462.99" r="2.0" fill="#6b3fa6"/>
<circle cx="146.8" cy="463.19" r="2.0" fill="#6b3fa6"/>
<circle cx="148.55" cy="463.27" r="2.0" fill="#6b3fa6"/>
<circle cx="150.3" cy="463.26" r="2.0" fill="#6b3fa6"/>
<circle cx="152.05" cy="463.19" r="2.0" fill="#6b3fa6"/>
<circle cx="153.8" cy="463.31" r="2.0" fill="#6b3fa6"/>
<circle cx="155.55" cy="463.34" r="2.0" fill="#6b3fa6"/>
<circle cx="157.3" cy="463.39" r="2.0" fill="#6b3fa6"/>
<circle cx="159.05" cy="463.69" r="2.0" fill="#6b3fa6"/>
<circle cx="160.8" cy="463.78" r="2.0" fill="#6b3fa6"/>
<circle cx="162.55" cy="463.63" r="2.0" fill="#6b3fa6"/>
<circle cx="164.3" cy="463.31" r="2.0" fill="#6b3fa6"/>
<circle cx="166.05" cy="463.16" r="2.0" fill="#6b3fa6"/>
<circle cx="167.8" cy="463.28" r="2.0" fill="#6b3fa6"/>
<circle cx="169.55" cy="463.48" r="2.0" fill="#6b3fa6"/>
<circle cx="171.3" cy="463.64" r="2.0" fill="#6b3fa6"/>
<circle cx="173.05" cy="463.59" r="2.0" fill="#6b3fa6"/>
<circle cx="174.8" cy="463.37" r="2.0" fill="#6b3fa6"/>
<circle cx="176.55" cy="463.25" r="2.0" fill="#6b3fa6"/>
<circle cx="178.3" cy="463.5" r="2.0" fill="#6b3fa6"/>
<circle cx="180.05" cy="463.73" r="2.0" fill="#6b3fa6"/>
<circle cx="181.8" cy="463.61" r="2.0" fill="#6b3fa6"/>
<circle cx="183.55" cy="463.67" r="2.0" fill="#6b3fa6"/>
<circle cx="185.3" cy="463.64" r="2.0" fill="#6b3fa6"/>
<circle cx="187.05" cy="463.43" r="2.0" fill="#6b3fa6"/>
<circle cx="188.8" cy="463.71" r="2.0" fill="#6b3fa6"/>
<circle cx="190.55" cy="463.82" r="2.0" fill="#6b3fa6"/>
<circle cx="192.3" cy="463.43" r="2.0" fill="#6b3fa6"/>
<circle cx="194.05" cy="463.5" r="2.0" fill="#6b3fa6"/>
<circle cx="195.8" cy="463.67" r="2.0" fill="#6b3fa6"/>
<circle cx="197.55" cy="463.7" r="2.0" fill="#6b3fa6"/>
<circle cx="199.3" cy="463.88" r="2.0" fill="#6b3fa6"/>
<circle cx="201.05" cy="463.77" r="2.0" fill="#6b3fa6"/>
<circle cx="202.8" cy="463.67" r="2.0" fill="#6b3fa6"/>
<circle cx="204.55" cy="464.02" r="2.0" fill="#6b3fa6"/>
<circle cx="206.3" cy="464.28" r="2.0" fill="#6b3fa6"/>
<circle cx="208.05" cy="464.4" r="2.0" fill="#6b3fa6"/>
<circle cx="209.8" cy="464.44" r="2.0" fill="#6b3fa6"/>
<circle cx="211.55" cy="464.26" r="2.0" fill="#6b3fa6"/>
<circle cx="213.3" cy="463.97" r="2.0" fill="#6b3fa6"/>
<circle cx="215.05" cy="463.86" r="2.0" fill="#6b3fa6"/>
<circle cx="216.8" cy="464.02" r="2.0" fill="#6b3fa6"/>
<circle cx="218.55" cy="464" r="2.0" fill="#6b3fa6"/>
<circle cx="220.3" cy="463.84" r="2.0" fill="#6b3fa6"/>
<circle cx="222.05" cy="463.73" r="2.0" fill="#6b3fa6"/>
<circle cx="223.8" cy="463.78" r="2.0" fill="#6b3fa6"/>
<circle cx="225.55" cy="464.12" r="2.0" fill="#6b3fa6"/>
<circle cx="227.3" cy="464.24" r="2.0" fill="#6b3fa6"/>
<circle cx="229.05" cy="463.79" r="2.0" fill="#6b3fa6"/>
<circle cx="230.8" cy="463.77" r="2.0" fill="#6b3fa6"/>
<circle cx="232.55" cy="464.34" r="2.0" fill="#6b3fa6"/>
<circle cx="234.3" cy="464.71" r="2.0" fill="#6b3fa6"/>
<circle cx="236.05" cy="464.42" r="2.0" fill="#6b3fa6"/>
<circle cx="237.8" cy="463.75" r="2.0" fill="#6b3fa6"/>
<circle cx="239.55" cy="463.68" r="2.0" fill="#6b3fa6"/>
<circle cx="241.3" cy="464.15" r="2.0" fill="#6b3fa6"/>
<circle cx="243.05" cy="464.19" r="2.0" fill="#6b3fa6"/>
<circle cx="244.8" cy="464.24" r="2.0" fill="#6b3fa6"/>
<circle cx="246.55" cy="464.69" r="2.0" fill="#6b3fa6"/>
<circle cx="248.3" cy="464.86" r="2.0" fill="#6b3fa6"/>
<circle cx="250.05" cy="464.7" r="2.0" fill="#6b3fa6"/>
<circle cx="251.8" cy="464.66" r="2.0" fill="#6b3fa6"/>
<circle cx="253.55" cy="464.85" r="2.0" fill="#6b3fa6"/>
<circle cx="255.3" cy="465.05" r="2.0" fill="#6b3fa6"/>
<circle cx="257.05" cy="464.97" r="2.0" fill="#6b3fa6"/>
<circle cx="258.8" cy="464.87" r="2.0" fill="#6b3fa6"/>
<circle cx="260.55" cy="464.67" r="2.0" fill="#6b3fa6"/>
<circle cx="262.3" cy="464.53" r="2.0" fill="#6b3fa6"/>
<circle cx="264.05" cy="464.92" r="2.0" fill="#6b3fa6"/>
<circle cx="265.8" cy="465.12" r="2.0" fill="#6b3fa6"/>
<circle cx="267.55" cy="464.76" r="2.0" fill="#6b3fa6"/>
<circle cx="269.3" cy="464.33" r="2.0" fill="#6b3fa6"/>
<path d="M45.2 334 L49.82 334 L54.44 334 L59.06 334 L63.68 334 L68.3 334 L72.92 334 L77.54 334 L82.16 334 L86.78 334 L91.4 334 L96.02 334 L100.64 334 L102 334.4 L103.5 337.5 L109 464 L109.6 484.5 L110.8 485.95 L112.55 485.91 L114.3 485.57 L116.05 485.86 L117.8 486.13 L119.55 486.04 L121.3 486.44 L123.05 486.45 L124.8 486.16 L126.55 486.26 L128.3 486.36 L130.05 486.4 L131.8 486.38 L133.55 486.03 L135.3 486.06 L137.05 486.4 L138.8 486.18 L140.55 486.03 L142.3 486.53 L144.05 486.69 L145.8 486.06 L147.55 485.69 L149.3 485.93 L151.05 486.1 L152.8 486.31 L154.55 486.46 L156.3 486.31 L158.05 486.29 L159.8 485.93 L161.55 485.93 L163.3 486.51 L165.05 486.84 L166.8 486.76 L168.55 486.54 L170.3 486.42 L172.05 486.46 L173.8 486.49 L175.55 486.4 L177.3 486.48 L179.05 486.56 L180.8 486.55 L182.55 486.68 L184.3 486.95 L186.05 487.12 L187.8 486.72 L189.55 486.26 L191.3 486.23 L193.05 486.49 L194.8 486.65 L196.55 486.52 L198.3 486.78 L200.05 486.69 L201.8 485.78 L203.55 485.79 L205.3 486.44 L207.05 486.68 L208.8 486.56 L210.55 486.5 L212.3 486.69 L214.05 486.62 L215.8 486.77 L217.55 487.25 L219.3 486.93 L221.05 486.42 L222.8 486.42 L224.55 486.48 L226.3 486.13 L228.05 485.68 L229.8 486.2 L231.55 486.67 L233.3 486.4 L235.05 486.57 L236.8 487.04 L238.55 487.26 L240.3 486.98 L242.05 486.31 L243.8 486.26 L245.55 486.61 L247.3 486.98 L249.05 486.72 L250.8 486.21 L252.55 486.44 L254.3 486.54 L256.05 486.51 L257.8 486.41 L259.55 486.76 L261.3 487.12 L263.05 486.92 L264.8 486.92 L266.55 487.07 L268.3 487.02 L270.5 485.3 L273.8 350 L276 344.2 L281 340.1 L286 338.2 L291.4 337 L296.3 336.3 L305 335.7 L315 335.2 L324.6 334.8" fill="none" stroke="#2b5fb4" stroke-width="1.6" stroke-linejoin="round"/>
<circle cx="45.2" cy="334" r="2.2" fill="#2b5fb4"/>
<circle cx="49.82" cy="334" r="2.2" fill="#2b5fb4"/>
<circle cx="54.44" cy="334" r="2.2" fill="#2b5fb4"/>
<circle cx="59.06" cy="334" r="2.2" fill="#2b5fb4"/>
<circle cx="63.68" cy="334" r="2.2" fill="#2b5fb4"/>
<circle cx="68.3" cy="334" r="2.2" fill="#2b5fb4"/>
<circle cx="72.92" cy="334" r="2.2" fill="#2b5fb4"/>
<circle cx="77.54" cy="334" r="2.2" fill="#2b5fb4"/>
<circle cx="82.16" cy="334" r="2.2" fill="#2b5fb4"/>
<circle cx="86.78" cy="334" r="2.2" fill="#2b5fb4"/>
<circle cx="91.4" cy="334" r="2.2" fill="#2b5fb4"/>
<circle cx="96.02" cy="334" r="2.2" fill="#2b5fb4"/>
<circle cx="100.64" cy="334" r="2.2" fill="#2b5fb4"/>
<circle cx="273.8" cy="350" r="2.2" fill="#2b5fb4"/>
<circle cx="278.4" cy="342.23" r="2.2" fill="#2b5fb4"/>
<circle cx="283" cy="339.34" r="2.2" fill="#2b5fb4"/>
<circle cx="287.6" cy="337.84" r="2.2" fill="#2b5fb4"/>
<circle cx="292.2" cy="336.89" r="2.2" fill="#2b5fb4"/>
<circle cx="296.8" cy="336.27" r="2.2" fill="#2b5fb4"/>
<circle cx="301.4" cy="335.95" r="2.2" fill="#2b5fb4"/>
<circle cx="306" cy="335.65" r="2.2" fill="#2b5fb4"/>
<circle cx="310.6" cy="335.42" r="2.2" fill="#2b5fb4"/>
<circle cx="315.2" cy="335.19" r="2.2" fill="#2b5fb4"/>
<circle cx="319.8" cy="335" r="2.2" fill="#2b5fb4"/>
<circle cx="324.4" cy="334.81" r="2.2" fill="#2b5fb4"/>
<path d="M110.8 485.95 L112.55 485.91 L114.3 485.57 L116.05 485.86 L117.8 486.13 L119.55 486.04 L121.3 486.44 L123.05 486.45 L124.8 486.16 L126.55 486.26 L128.3 486.36 L130.05 486.4 L131.8 486.38 L133.55 486.03 L135.3 486.06 L137.05 486.4 L138.8 486.18 L140.55 486.03 L142.3 486.53 L144.05 486.69 L145.8 486.06 L147.55 485.69 L149.3 485.93 L151.05 486.1 L152.8 486.31 L154.55 486.46 L156.3 486.31 L158.05 486.29 L159.8 485.93 L161.55 485.93 L163.3 486.51 L165.05 486.84 L166.8 486.76 L168.55 486.54 L170.3 486.42 L172.05 486.46 L173.8 486.49 L175.55 486.4 L177.3 486.48 L179.05 486.56 L180.8 486.55 L182.55 486.68 L184.3 486.95 L186.05 487.12 L187.8 486.72 L189.55 486.26 L191.3 486.23 L193.05 486.49 L194.8 486.65 L196.55 486.52 L198.3 486.78 L200.05 486.69 L201.8 485.78 L203.55 485.79 L205.3 486.44 L207.05 486.68 L208.8 486.56 L210.55 486.5 L212.3 486.69 L214.05 486.62 L215.8 486.77 L217.55 487.25 L219.3 486.93 L221.05 486.42 L222.8 486.42 L224.55 486.48 L226.3 486.13 L228.05 485.68 L229.8 486.2 L231.55 486.67 L233.3 486.4 L235.05 486.57 L236.8 487.04 L238.55 487.26 L240.3 486.98 L242.05 486.31 L243.8 486.26 L245.55 486.61 L247.3 486.98 L249.05 486.72 L250.8 486.21 L252.55 486.44 L254.3 486.54 L256.05 486.51 L257.8 486.41 L259.55 486.76 L261.3 487.12 L263.05 486.92 L264.8 486.92 L266.55 487.07 L268.3 487.02" fill="none" stroke="#2b5fb4" stroke-width="2.2" stroke-linejoin="round"/>
<circle cx="110.8" cy="485.95" r="2.0" fill="#2b5fb4"/>
<circle cx="112.55" cy="485.91" r="2.0" fill="#2b5fb4"/>
<circle cx="114.3" cy="485.57" r="2.0" fill="#2b5fb4"/>
<circle cx="116.05" cy="485.86" r="2.0" fill="#2b5fb4"/>
<circle cx="117.8" cy="486.13" r="2.0" fill="#2b5fb4"/>
<circle cx="119.55" cy="486.04" r="2.0" fill="#2b5fb4"/>
<circle cx="121.3" cy="486.44" r="2.0" fill="#2b5fb4"/>
<circle cx="123.05" cy="486.45" r="2.0" fill="#2b5fb4"/>
<circle cx="124.8" cy="486.16" r="2.0" fill="#2b5fb4"/>
<circle cx="126.55" cy="486.26" r="2.0" fill="#2b5fb4"/>
<circle cx="128.3" cy="486.36" r="2.0" fill="#2b5fb4"/>
<circle cx="130.05" cy="486.4" r="2.0" fill="#2b5fb4"/>
<circle cx="131.8" cy="486.38" r="2.0" fill="#2b5fb4"/>
<circle cx="133.55" cy="486.03" r="2.0" fill="#2b5fb4"/>
<circle cx="135.3" cy="486.06" r="2.0" fill="#2b5fb4"/>
<circle cx="137.05" cy="486.4" r="2.0" fill="#2b5fb4"/>
<circle cx="138.8" cy="486.18" r="2.0" fill="#2b5fb4"/>
<circle cx="140.55" cy="486.03" r="2.0" fill="#2b5fb4"/>
<circle cx="142.3" cy="486.53" r="2.0" fill="#2b5fb4"/>
<circle cx="144.05" cy="486.69" r="2.0" fill="#2b5fb4"/>
<circle cx="145.8" cy="486.06" r="2.0" fill="#2b5fb4"/>
<circle cx="147.55" cy="485.69" r="2.0" fill="#2b5fb4"/>
<circle cx="149.3" cy="485.93" r="2.0" fill="#2b5fb4"/>
<circle cx="151.05" cy="486.1" r="2.0" fill="#2b5fb4"/>
<circle cx="152.8" cy="486.31" r="2.0" fill="#2b5fb4"/>
<circle cx="154.55" cy="486.46" r="2.0" fill="#2b5fb4"/>
<circle cx="156.3" cy="486.31" r="2.0" fill="#2b5fb4"/>
<circle cx="158.05" cy="486.29" r="2.0" fill="#2b5fb4"/>
<circle cx="159.8" cy="485.93" r="2.0" fill="#2b5fb4"/>
<circle cx="161.55" cy="485.93" r="2.0" fill="#2b5fb4"/>
<circle cx="163.3" cy="486.51" r="2.0" fill="#2b5fb4"/>
<circle cx="165.05" cy="486.84" r="2.0" fill="#2b5fb4"/>
<circle cx="166.8" cy="486.76" r="2.0" fill="#2b5fb4"/>
<circle cx="168.55" cy="486.54" r="2.0" fill="#2b5fb4"/>
<circle cx="170.3" cy="486.42" r="2.0" fill="#2b5fb4"/>
<circle cx="172.05" cy="486.46" r="2.0" fill="#2b5fb4"/>
<circle cx="173.8" cy="486.49" r="2.0" fill="#2b5fb4"/>
<circle cx="175.55" cy="486.4" r="2.0" fill="#2b5fb4"/>
<circle cx="177.3" cy="486.48" r="2.0" fill="#2b5fb4"/>
<circle cx="179.05" cy="486.56" r="2.0" fill="#2b5fb4"/>
<circle cx="180.8" cy="486.55" r="2.0" fill="#2b5fb4"/>
<circle cx="182.55" cy="486.68" r="2.0" fill="#2b5fb4"/>
<circle cx="184.3" cy="486.95" r="2.0" fill="#2b5fb4"/>
<circle cx="186.05" cy="487.12" r="2.0" fill="#2b5fb4"/>
<circle cx="187.8" cy="486.72" r="2.0" fill="#2b5fb4"/>
<circle cx="189.55" cy="486.26" r="2.0" fill="#2b5fb4"/>
<circle cx="191.3" cy="486.23" r="2.0" fill="#2b5fb4"/>
<circle cx="193.05" cy="486.49" r="2.0" fill="#2b5fb4"/>
<circle cx="194.8" cy="486.65" r="2.0" fill="#2b5fb4"/>
<circle cx="196.55" cy="486.52" r="2.0" fill="#2b5fb4"/>
<circle cx="198.3" cy="486.78" r="2.0" fill="#2b5fb4"/>
<circle cx="200.05" cy="486.69" r="2.0" fill="#2b5fb4"/>
<circle cx="201.8" cy="485.78" r="2.0" fill="#2b5fb4"/>
<circle cx="203.55" cy="485.79" r="2.0" fill="#2b5fb4"/>
<circle cx="205.3" cy="486.44" r="2.0" fill="#2b5fb4"/>
<circle cx="207.05" cy="486.68" r="2.0" fill="#2b5fb4"/>
<circle cx="208.8" cy="486.56" r="2.0" fill="#2b5fb4"/>
<circle cx="210.55" cy="486.5" r="2.0" fill="#2b5fb4"/>
<circle cx="212.3" cy="486.69" r="2.0" fill="#2b5fb4"/>
<circle cx="214.05" cy="486.62" r="2.0" fill="#2b5fb4"/>
<circle cx="215.8" cy="486.77" r="2.0" fill="#2b5fb4"/>
<circle cx="217.55" cy="487.25" r="2.0" fill="#2b5fb4"/>
<circle cx="219.3" cy="486.93" r="2.0" fill="#2b5fb4"/>
<circle cx="221.05" cy="486.42" r="2.0" fill="#2b5fb4"/>
<circle cx="222.8" cy="486.42" r="2.0" fill="#2b5fb4"/>
<circle cx="224.55" cy="486.48" r="2.0" fill="#2b5fb4"/>
<circle cx="226.3" cy="486.13" r="2.0" fill="#2b5fb4"/>
<circle cx="228.05" cy="485.68" r="2.0" fill="#2b5fb4"/>
<circle cx="229.8" cy="486.2" r="2.0" fill="#2b5fb4"/>
<circle cx="231.55" cy="486.67" r="2.0" fill="#2b5fb4"/>
<circle cx="233.3" cy="486.4" r="2.0" fill="#2b5fb4"/>
<circle cx="235.05" cy="486.57" r="2.0" fill="#2b5fb4"/>
<circle cx="236.8" cy="487.04" r="2.0" fill="#2b5fb4"/>
<circle cx="238.55" cy="487.26" r="2.0" fill="#2b5fb4"/>
<circle cx="240.3" cy="486.98" r="2.0" fill="#2b5fb4"/>
<circle cx="242.05" cy="486.31" r="2.0" fill="#2b5fb4"/>
<circle cx="243.8" cy="486.26" r="2.0" fill="#2b5fb4"/>
<circle cx="245.55" cy="486.61" r="2.0" fill="#2b5fb4"/>
<circle cx="247.3" cy="486.98" r="2.0" fill="#2b5fb4"/>
<circle cx="249.05" cy="486.72" r="2.0" fill="#2b5fb4"/>
<circle cx="250.8" cy="486.21" r="2.0" fill="#2b5fb4"/>
<circle cx="252.55" cy="486.44" r="2.0" fill="#2b5fb4"/>
<circle cx="254.3" cy="486.54" r="2.0" fill="#2b5fb4"/>
<circle cx="256.05" cy="486.51" r="2.0" fill="#2b5fb4"/>
<circle cx="257.8" cy="486.41" r="2.0" fill="#2b5fb4"/>
<circle cx="259.55" cy="486.76" r="2.0" fill="#2b5fb4"/>
<circle cx="261.3" cy="487.12" r="2.0" fill="#2b5fb4"/>
<circle cx="263.05" cy="486.92" r="2.0" fill="#2b5fb4"/>
<circle cx="264.8" cy="486.92" r="2.0" fill="#2b5fb4"/>
<circle cx="266.55" cy="487.07" r="2.0" fill="#2b5fb4"/>
<circle cx="268.3" cy="487.02" r="2.0" fill="#2b5fb4"/>
<path d="M45.2 334.8 L49.82 334.8 L54.44 334.8 L59.06 334.8 L63.68 334.8 L68.3 334.8 L72.92 334.8 L77.54 334.8 L82.16 334.8 L86.78 334.8 L91.4 334.8 L96.02 334.8 L100.6 335.2 L102.1 338.3 L106.6 478 L107.2 498.5 L108.4 500.52 L110.15 501.04 L111.9 500.86 L113.65 500.8 L115.4 501.07 L117.15 500.32 L118.9 500.12 L120.65 500.12 L122.4 500.18 L124.15 500.46 L125.9 500.45 L127.65 500.01 L129.4 498.99 L131.15 498.99 L132.9 499.7 L134.65 499.4 L136.4 498.86 L138.15 499.3 L139.9 500.48 L141.65 501.07 L143.4 500.72 L145.15 499.88 L146.9 499.48 L148.65 499.6 L150.4 500.51 L152.15 500.8 L153.9 500.32 L155.65 500.84 L157.4 500.86 L159.15 499.66 L160.9 499.28 L162.65 500.21 L164.4 500.15 L166.15 499.76 L167.9 500.16 L169.65 500.69 L171.4 500.63 L173.15 500.13 L174.9 500.71 L176.65 501.42 L178.4 501.08 L180.15 500.08 L181.9 499.82 L183.65 500.37 L185.4 500.35 L187.15 500.45 L188.9 500.71 L190.65 499.64 L192.4 498.64 L194.15 498.76 L195.9 499.14 L197.65 500.04 L199.4 500.22 L201.15 499.76 L202.9 500.05 L204.65 500.45 L206.4 500.58 L208.15 500.69 L209.9 500.56 L211.65 500.9 L213.4 501.44 L215.15 501.04 L216.9 500.27 L218.65 499.82 L220.4 498.97 L222.15 498.48 L223.9 498.98 L225.65 499.76 L227.4 499.62 L229.15 499.64 L230.9 499.89 L232.65 499.79 L234.4 499.74 L236.15 500.42 L237.9 501 L239.65 500.6 L241.4 500.54 L243.15 500.6 L244.9 499.83 L246.65 499.16 L248.4 499.66 L250.15 500.01 L251.9 499.26 L253.65 499.53 L255.4 500.57 L257.15 500.67 L258.9 500.4 L260.65 500.46 L262.4 499.99 L264.15 499.04 L265.9 498.73 L267.65 499 L269.3 498.5 L270.3 356.9 L274.5 347.2 L279.3 343.6 L286.6 341.2 L296.3 339.3 L308.4 338.1 L324.6 336.9" fill="none" stroke="#45b883" stroke-width="1.6" stroke-linejoin="round"/>
<circle cx="45.2" cy="334.8" r="2.2" fill="#45b883"/>
<circle cx="49.82" cy="334.8" r="2.2" fill="#45b883"/>
<circle cx="54.44" cy="334.8" r="2.2" fill="#45b883"/>
<circle cx="59.06" cy="334.8" r="2.2" fill="#45b883"/>
<circle cx="63.68" cy="334.8" r="2.2" fill="#45b883"/>
<circle cx="68.3" cy="334.8" r="2.2" fill="#45b883"/>
<circle cx="72.92" cy="334.8" r="2.2" fill="#45b883"/>
<circle cx="77.54" cy="334.8" r="2.2" fill="#45b883"/>
<circle cx="82.16" cy="334.8" r="2.2" fill="#45b883"/>
<circle cx="86.78" cy="334.8" r="2.2" fill="#45b883"/>
<circle cx="91.4" cy="334.8" r="2.2" fill="#45b883"/>
<circle cx="96.02" cy="334.8" r="2.2" fill="#45b883"/>
<circle cx="270.3" cy="356.9" r="2.2" fill="#45b883"/>
<circle cx="274.9" cy="346.9" r="2.2" fill="#45b883"/>
<circle cx="279.5" cy="343.53" r="2.2" fill="#45b883"/>
<circle cx="284.1" cy="342.02" r="2.2" fill="#45b883"/>
<circle cx="288.7" cy="340.79" r="2.2" fill="#45b883"/>
<circle cx="293.3" cy="339.89" r="2.2" fill="#45b883"/>
<circle cx="297.9" cy="339.14" r="2.2" fill="#45b883"/>
<circle cx="302.5" cy="338.69" r="2.2" fill="#45b883"/>
<circle cx="307.1" cy="338.23" r="2.2" fill="#45b883"/>
<circle cx="311.7" cy="337.86" r="2.2" fill="#45b883"/>
<circle cx="316.3" cy="337.51" r="2.2" fill="#45b883"/>
<circle cx="320.9" cy="337.17" r="2.2" fill="#45b883"/>
<path d="M108.4 500.52 L110.15 501.04 L111.9 500.86 L113.65 500.8 L115.4 501.07 L117.15 500.32 L118.9 500.12 L120.65 500.12 L122.4 500.18 L124.15 500.46 L125.9 500.45 L127.65 500.01 L129.4 498.99 L131.15 498.99 L132.9 499.7 L134.65 499.4 L136.4 498.86 L138.15 499.3 L139.9 500.48 L141.65 501.07 L143.4 500.72 L145.15 499.88 L146.9 499.48 L148.65 499.6 L150.4 500.51 L152.15 500.8 L153.9 500.32 L155.65 500.84 L157.4 500.86 L159.15 499.66 L160.9 499.28 L162.65 500.21 L164.4 500.15 L166.15 499.76 L167.9 500.16 L169.65 500.69 L171.4 500.63 L173.15 500.13 L174.9 500.71 L176.65 501.42 L178.4 501.08 L180.15 500.08 L181.9 499.82 L183.65 500.37 L185.4 500.35 L187.15 500.45 L188.9 500.71 L190.65 499.64 L192.4 498.64 L194.15 498.76 L195.9 499.14 L197.65 500.04 L199.4 500.22 L201.15 499.76 L202.9 500.05 L204.65 500.45 L206.4 500.58 L208.15 500.69 L209.9 500.56 L211.65 500.9 L213.4 501.44 L215.15 501.04 L216.9 500.27 L218.65 499.82 L220.4 498.97 L222.15 498.48 L223.9 498.98 L225.65 499.76 L227.4 499.62 L229.15 499.64 L230.9 499.89 L232.65 499.79 L234.4 499.74 L236.15 500.42 L237.9 501 L239.65 500.6 L241.4 500.54 L243.15 500.6 L244.9 499.83 L246.65 499.16 L248.4 499.66 L250.15 500.01 L251.9 499.26 L253.65 499.53 L255.4 500.57 L257.15 500.67 L258.9 500.4 L260.65 500.46 L262.4 499.99 L264.15 499.04 L265.9 498.73 L267.65 499" fill="none" stroke="#45b883" stroke-width="2.2" stroke-linejoin="round"/>
<circle cx="108.4" cy="500.52" r="2.1" fill="#45b883"/>
<circle cx="110.15" cy="501.04" r="2.1" fill="#45b883"/>
<circle cx="111.9" cy="500.86" r="2.1" fill="#45b883"/>
<circle cx="113.65" cy="500.8" r="2.1" fill="#45b883"/>
<circle cx="115.4" cy="501.07" r="2.1" fill="#45b883"/>
<circle cx="117.15" cy="500.32" r="2.1" fill="#45b883"/>
<circle cx="118.9" cy="500.12" r="2.1" fill="#45b883"/>
<circle cx="120.65" cy="500.12" r="2.1" fill="#45b883"/>
<circle cx="122.4" cy="500.18" r="2.1" fill="#45b883"/>
<circle cx="124.15" cy="500.46" r="2.1" fill="#45b883"/>
<circle cx="125.9" cy="500.45" r="2.1" fill="#45b883"/>
<circle cx="127.65" cy="500.01" r="2.1" fill="#45b883"/>
<circle cx="129.4" cy="498.99" r="2.1" fill="#45b883"/>
<circle cx="131.15" cy="498.99" r="2.1" fill="#45b883"/>
<circle cx="132.9" cy="499.7" r="2.1" fill="#45b883"/>
<circle cx="134.65" cy="499.4" r="2.1" fill="#45b883"/>
<circle cx="136.4" cy="498.86" r="2.1" fill="#45b883"/>
<circle cx="138.15" cy="499.3" r="2.1" fill="#45b883"/>
<circle cx="139.9" cy="500.48" r="2.1" fill="#45b883"/>
<circle cx="141.65" cy="501.07" r="2.1" fill="#45b883"/>
<circle cx="143.4" cy="500.72" r="2.1" fill="#45b883"/>
<circle cx="145.15" cy="499.88" r="2.1" fill="#45b883"/>
<circle cx="146.9" cy="499.48" r="2.1" fill="#45b883"/>
<circle cx="148.65" cy="499.6" r="2.1" fill="#45b883"/>
<circle cx="150.4" cy="500.51" r="2.1" fill="#45b883"/>
<circle cx="152.15" cy="500.8" r="2.1" fill="#45b883"/>
<circle cx="153.9" cy="500.32" r="2.1" fill="#45b883"/>
<circle cx="155.65" cy="500.84" r="2.1" fill="#45b883"/>
<circle cx="157.4" cy="500.86" r="2.1" fill="#45b883"/>
<circle cx="159.15" cy="499.66" r="2.1" fill="#45b883"/>
<circle cx="160.9" cy="499.28" r="2.1" fill="#45b883"/>
<circle cx="162.65" cy="500.21" r="2.1" fill="#45b883"/>
<circle cx="164.4" cy="500.15" r="2.1" fill="#45b883"/>
<circle cx="166.15" cy="499.76" r="2.1" fill="#45b883"/>
<circle cx="167.9" cy="500.16" r="2.1" fill="#45b883"/>
<circle cx="169.65" cy="500.69" r="2.1" fill="#45b883"/>
<circle cx="171.4" cy="500.63" r="2.1" fill="#45b883"/>
<circle cx="173.15" cy="500.13" r="2.1" fill="#45b883"/>
<circle cx="174.9" cy="500.71" r="2.1" fill="#45b883"/>
<circle cx="176.65" cy="501.42" r="2.1" fill="#45b883"/>
<circle cx="178.4" cy="501.08" r="2.1" fill="#45b883"/>
<circle cx="180.15" cy="500.08" r="2.1" fill="#45b883"/>
<circle cx="181.9" cy="499.82" r="2.1" fill="#45b883"/>
<circle cx="183.65" cy="500.37" r="2.1" fill="#45b883"/>
<circle cx="185.4" cy="500.35" r="2.1" fill="#45b883"/>
<circle cx="187.15" cy="500.45" r="2.1" fill="#45b883"/>
<circle cx="188.9" cy="500.71" r="2.1" fill="#45b883"/>
<circle cx="190.65" cy="499.64" r="2.1" fill="#45b883"/>
<circle cx="192.4" cy="498.64" r="2.1" fill="#45b883"/>
<circle cx="194.15" cy="498.76" r="2.1" fill="#45b883"/>
<circle cx="195.9" cy="499.14" r="2.1" fill="#45b883"/>
<circle cx="197.65" cy="500.04" r="2.1" fill="#45b883"/>
<circle cx="199.4" cy="500.22" r="2.1" fill="#45b883"/>
<circle cx="201.15" cy="499.76" r="2.1" fill="#45b883"/>
<circle cx="202.9" cy="500.05" r="2.1" fill="#45b883"/>
<circle cx="204.65" cy="500.45" r="2.1" fill="#45b883"/>
<circle cx="206.4" cy="500.58" r="2.1" fill="#45b883"/>
<circle cx="208.15" cy="500.69" r="2.1" fill="#45b883"/>
<circle cx="209.9" cy="500.56" r="2.1" fill="#45b883"/>
<circle cx="211.65" cy="500.9" r="2.1" fill="#45b883"/>
<circle cx="213.4" cy="501.44" r="2.1" fill="#45b883"/>
<circle cx="215.15" cy="501.04" r="2.1" fill="#45b883"/>
<circle cx="216.9" cy="500.27" r="2.1" fill="#45b883"/>
<circle cx="218.65" cy="499.82" r="2.1" fill="#45b883"/>
<circle cx="220.4" cy="498.97" r="2.1" fill="#45b883"/>
<circle cx="222.15" cy="498.48" r="2.1" fill="#45b883"/>
<circle cx="223.9" cy="498.98" r="2.1" fill="#45b883"/>
<circle cx="225.65" cy="499.76" r="2.1" fill="#45b883"/>
<circle cx="227.4" cy="499.62" r="2.1" fill="#45b883"/>
<circle cx="229.15" cy="499.64" r="2.1" fill="#45b883"/>
<circle cx="230.9" cy="499.89" r="2.1" fill="#45b883"/>
<circle cx="232.65" cy="499.79" r="2.1" fill="#45b883"/>
<circle cx="234.4" cy="499.74" r="2.1" fill="#45b883"/>
<circle cx="236.15" cy="500.42" r="2.1" fill="#45b883"/>
<circle cx="237.9" cy="501" r="2.1" fill="#45b883"/>
<circle cx="239.65" cy="500.6" r="2.1" fill="#45b883"/>
<circle cx="241.4" cy="500.54" r="2.1" fill="#45b883"/>
<circle cx="243.15" cy="500.6" r="2.1" fill="#45b883"/>
<circle cx="244.9" cy="499.83" r="2.1" fill="#45b883"/>
<circle cx="246.65" cy="499.16" r="2.1" fill="#45b883"/>
<circle cx="248.4" cy="499.66" r="2.1" fill="#45b883"/>
<circle cx="250.15" cy="500.01" r="2.1" fill="#45b883"/>
<circle cx="251.9" cy="499.26" r="2.1" fill="#45b883"/>
<circle cx="253.65" cy="499.53" r="2.1" fill="#45b883"/>
<circle cx="255.4" cy="500.57" r="2.1" fill="#45b883"/>
<circle cx="257.15" cy="500.67" r="2.1" fill="#45b883"/>
<circle cx="258.9" cy="500.4" r="2.1" fill="#45b883"/>
<circle cx="260.65" cy="500.46" r="2.1" fill="#45b883"/>
<circle cx="262.4" cy="499.99" r="2.1" fill="#45b883"/>
<circle cx="264.15" cy="499.04" r="2.1" fill="#45b883"/>
<circle cx="265.9" cy="498.73" r="2.1" fill="#45b883"/>
<circle cx="267.65" cy="499" r="2.1" fill="#45b883"/>
<path d="M45.2 333.6 L49.82 333.6 L54.44 333.6 L59.06 333.6 L63.68 333.6 L68.3 333.6 L72.92 333.6 L77.54 333.6 L82.16 333.6 L86.78 333.6 L91.4 333.6 L96.02 333.6 L99.8 334 L101.3 337.1 L106 483.5 L106.6 504 L107.8 506.07 L109.55 505.07 L111.3 504.29 L113.05 503.99 L114.8 503.97 L116.55 504.39 L118.3 504.67 L120.05 504.46 L121.8 503.92 L123.55 504.63 L125.3 504.39 L127.05 504.02 L128.8 505.23 L130.55 504.72 L132.3 503.33 L134.05 504.09 L135.8 505.23 L137.55 505.54 L139.3 506.22 L141.05 506.63 L142.8 506.42 L144.55 506.5 L146.3 506.91 L148.05 506.68 L149.8 505.32 L151.55 504.38 L153.3 505.91 L155.05 506.75 L156.8 505.58 L158.55 505.75 L160.3 506.18 L162.05 505.03 L163.8 506.12 L165.55 507.22 L167.3 505.94 L169.05 506.4 L170.8 507.18 L172.55 506.32 L174.3 506.23 L176.05 506.07 L177.8 505.1 L179.55 505.2 L181.3 506 L183.05 506.24 L184.8 505.71 L186.55 504.95 L188.3 504.5 L190.05 505.17 L191.8 506.1 L193.55 505.59 L195.3 504.56 L197.05 505.52 L198.8 507.69 L200.55 507.63 L202.3 505.45 L204.05 503.95 L205.8 505.19 L207.55 506.74 L209.3 507.15 L211.05 506.44 L212.8 505.8 L214.55 505.15 L216.3 504.57 L218.05 505.7 L219.8 505.88 L221.55 505.57 L223.3 506.95 L225.05 506.88 L226.8 504.83 L228.55 504.56 L230.3 505.55 L232.05 505.6 L233.8 504.89 L235.55 505.39 L237.3 507.18 L239.05 506.66 L240.8 504.45 L242.55 504.64 L244.3 506.69 L246.05 507.59 L247.8 507.6 L249.55 506.49 L251.3 505.22 L253.05 504.57 L254.8 503.63 L256.55 504.08 L258.3 505.37 L260.05 505.61 L261.8 505.08 L263.55 505.3 L265.3 505.95 L267.05 506.21 L268.8 506.33 L271.7 504 L275.5 356 L278.1 349.6 L284.2 345.4 L290.2 343.6 L299.9 342.4 L310.8 341.2 L324.6 340" fill="none" stroke="#f7c21c" stroke-width="1.6" stroke-linejoin="round"/>
<circle cx="45.2" cy="333.6" r="2.2" fill="#f7c21c"/>
<circle cx="49.82" cy="333.6" r="2.2" fill="#f7c21c"/>
<circle cx="54.44" cy="333.6" r="2.2" fill="#f7c21c"/>
<circle cx="59.06" cy="333.6" r="2.2" fill="#f7c21c"/>
<circle cx="63.68" cy="333.6" r="2.2" fill="#f7c21c"/>
<circle cx="68.3" cy="333.6" r="2.2" fill="#f7c21c"/>
<circle cx="72.92" cy="333.6" r="2.2" fill="#f7c21c"/>
<circle cx="77.54" cy="333.6" r="2.2" fill="#f7c21c"/>
<circle cx="82.16" cy="333.6" r="2.2" fill="#f7c21c"/>
<circle cx="86.78" cy="333.6" r="2.2" fill="#f7c21c"/>
<circle cx="91.4" cy="333.6" r="2.2" fill="#f7c21c"/>
<circle cx="96.02" cy="333.6" r="2.2" fill="#f7c21c"/>
<circle cx="275.5" cy="356" r="2.2" fill="#f7c21c"/>
<circle cx="280.1" cy="348.22" r="2.2" fill="#f7c21c"/>
<circle cx="284.7" cy="345.25" r="2.2" fill="#f7c21c"/>
<circle cx="289.3" cy="343.87" r="2.2" fill="#f7c21c"/>
<circle cx="293.9" cy="343.14" r="2.2" fill="#f7c21c"/>
<circle cx="298.5" cy="342.57" r="2.2" fill="#f7c21c"/>
<circle cx="303.1" cy="342.05" r="2.2" fill="#f7c21c"/>
<circle cx="307.7" cy="341.54" r="2.2" fill="#f7c21c"/>
<circle cx="312.3" cy="341.07" r="2.2" fill="#f7c21c"/>
<circle cx="316.9" cy="340.67" r="2.2" fill="#f7c21c"/>
<circle cx="321.5" cy="340.27" r="2.2" fill="#f7c21c"/>
<path d="M107.8 506.07 L109.55 505.07 L111.3 504.29 L113.05 503.99 L114.8 503.97 L116.55 504.39 L118.3 504.67 L120.05 504.46 L121.8 503.92 L123.55 504.63 L125.3 504.39 L127.05 504.02 L128.8 505.23 L130.55 504.72 L132.3 503.33 L134.05 504.09 L135.8 505.23 L137.55 505.54 L139.3 506.22 L141.05 506.63 L142.8 506.42 L144.55 506.5 L146.3 506.91 L148.05 506.68 L149.8 505.32 L151.55 504.38 L153.3 505.91 L155.05 506.75 L156.8 505.58 L158.55 505.75 L160.3 506.18 L162.05 505.03 L163.8 506.12 L165.55 507.22 L167.3 505.94 L169.05 506.4 L170.8 507.18 L172.55 506.32 L174.3 506.23 L176.05 506.07 L177.8 505.1 L179.55 505.2 L181.3 506 L183.05 506.24 L184.8 505.71 L186.55 504.95 L188.3 504.5 L190.05 505.17 L191.8 506.1 L193.55 505.59 L195.3 504.56 L197.05 505.52 L198.8 507.69 L200.55 507.63 L202.3 505.45 L204.05 503.95 L205.8 505.19 L207.55 506.74 L209.3 507.15 L211.05 506.44 L212.8 505.8 L214.55 505.15 L216.3 504.57 L218.05 505.7 L219.8 505.88 L221.55 505.57 L223.3 506.95 L225.05 506.88 L226.8 504.83 L228.55 504.56 L230.3 505.55 L232.05 505.6 L233.8 504.89 L235.55 505.39 L237.3 507.18 L239.05 506.66 L240.8 504.45 L242.55 504.64 L244.3 506.69 L246.05 507.59 L247.8 507.6 L249.55 506.49 L251.3 505.22 L253.05 504.57 L254.8 503.63 L256.55 504.08 L258.3 505.37 L260.05 505.61 L261.8 505.08 L263.55 505.3 L265.3 505.95 L267.05 506.21 L268.8 506.33" fill="none" stroke="#f7c21c" stroke-width="2.2" stroke-linejoin="round"/>
<circle cx="107.8" cy="506.07" r="2.1" fill="#f7c21c"/>
<circle cx="109.55" cy="505.07" r="2.1" fill="#f7c21c"/>
<circle cx="111.3" cy="504.29" r="2.1" fill="#f7c21c"/>
<circle cx="113.05" cy="503.99" r="2.1" fill="#f7c21c"/>
<circle cx="114.8" cy="503.97" r="2.1" fill="#f7c21c"/>
<circle cx="116.55" cy="504.39" r="2.1" fill="#f7c21c"/>
<circle cx="118.3" cy="504.67" r="2.1" fill="#f7c21c"/>
<circle cx="120.05" cy="504.46" r="2.1" fill="#f7c21c"/>
<circle cx="121.8" cy="503.92" r="2.1" fill="#f7c21c"/>
<circle cx="123.55" cy="504.63" r="2.1" fill="#f7c21c"/>
<circle cx="125.3" cy="504.39" r="2.1" fill="#f7c21c"/>
<circle cx="127.05" cy="504.02" r="2.1" fill="#f7c21c"/>
<circle cx="128.8" cy="505.23" r="2.1" fill="#f7c21c"/>
<circle cx="130.55" cy="504.72" r="2.1" fill="#f7c21c"/>
<circle cx="132.3" cy="503.33" r="2.1" fill="#f7c21c"/>
<circle cx="134.05" cy="504.09" r="2.1" fill="#f7c21c"/>
<circle cx="135.8" cy="505.23" r="2.1" fill="#f7c21c"/>
<circle cx="137.55" cy="505.54" r="2.1" fill="#f7c21c"/>
<circle cx="139.3" cy="506.22" r="2.1" fill="#f7c21c"/>
<circle cx="141.05" cy="506.63" r="2.1" fill="#f7c21c"/>
<circle cx="142.8" cy="506.42" r="2.1" fill="#f7c21c"/>
<circle cx="144.55" cy="506.5" r="2.1" fill="#f7c21c"/>
<circle cx="146.3" cy="506.91" r="2.1" fill="#f7c21c"/>
<circle cx="148.05" cy="506.68" r="2.1" fill="#f7c21c"/>
<circle cx="149.8" cy="505.32" r="2.1" fill="#f7c21c"/>
<circle cx="151.55" cy="504.38" r="2.1" fill="#f7c21c"/>
<circle cx="153.3" cy="505.91" r="2.1" fill="#f7c21c"/>
<circle cx="155.05" cy="506.75" r="2.1" fill="#f7c21c"/>
<circle cx="156.8" cy="505.58" r="2.1" fill="#f7c21c"/>
<circle cx="158.55" cy="505.75" r="2.1" fill="#f7c21c"/>
<circle cx="160.3" cy="506.18" r="2.1" fill="#f7c21c"/>
<circle cx="162.05" cy="505.03" r="2.1" fill="#f7c21c"/>
<circle cx="163.8" cy="506.12" r="2.1" fill="#f7c21c"/>
<circle cx="165.55" cy="507.22" r="2.1" fill="#f7c21c"/>
<circle cx="167.3" cy="505.94" r="2.1" fill="#f7c21c"/>
<circle cx="169.05" cy="506.4" r="2.1" fill="#f7c21c"/>
<circle cx="170.8" cy="507.18" r="2.1" fill="#f7c21c"/>
<circle cx="172.55" cy="506.32" r="2.1" fill="#f7c21c"/>
<circle cx="174.3" cy="506.23" r="2.1" fill="#f7c21c"/>
<circle cx="176.05" cy="506.07" r="2.1" fill="#f7c21c"/>
<circle cx="177.8" cy="505.1" r="2.1" fill="#f7c21c"/>
<circle cx="179.55" cy="505.2" r="2.1" fill="#f7c21c"/>
<circle cx="181.3" cy="506" r="2.1" fill="#f7c21c"/>
<circle cx="183.05" cy="506.24" r="2.1" fill="#f7c21c"/>
<circle cx="184.8" cy="505.71" r="2.1" fill="#f7c21c"/>
<circle cx="186.55" cy="504.95" r="2.1" fill="#f7c21c"/>
<circle cx="188.3" cy="504.5" r="2.1" fill="#f7c21c"/>
<circle cx="190.05" cy="505.17" r="2.1" fill="#f7c21c"/>
<circle cx="191.8" cy="506.1" r="2.1" fill="#f7c21c"/>
<circle cx="193.55" cy="505.59" r="2.1" fill="#f7c21c"/>
<circle cx="195.3" cy="504.56" r="2.1" fill="#f7c21c"/>
<circle cx="197.05" cy="505.52" r="2.1" fill="#f7c21c"/>
<circle cx="198.8" cy="507.69" r="2.1" fill="#f7c21c"/>
<circle cx="200.55" cy="507.63" r="2.1" fill="#f7c21c"/>
<circle cx="202.3" cy="505.45" r="2.1" fill="#f7c21c"/>
<circle cx="204.05" cy="503.95" r="2.1" fill="#f7c21c"/>
<circle cx="205.8" cy="505.19" r="2.1" fill="#f7c21c"/>
<circle cx="207.55" cy="506.74" r="2.1" fill="#f7c21c"/>
<circle cx="209.3" cy="507.15" r="2.1" fill="#f7c21c"/>
<circle cx="211.05" cy="506.44" r="2.1" fill="#f7c21c"/>
<circle cx="212.8" cy="505.8" r="2.1" fill="#f7c21c"/>
<circle cx="214.55" cy="505.15" r="2.1" fill="#f7c21c"/>
<circle cx="216.3" cy="504.57" r="2.1" fill="#f7c21c"/>
<circle cx="218.05" cy="505.7" r="2.1" fill="#f7c21c"/>
<circle cx="219.8" cy="505.88" r="2.1" fill="#f7c21c"/>
<circle cx="221.55" cy="505.57" r="2.1" fill="#f7c21c"/>
<circle cx="223.3" cy="506.95" r="2.1" fill="#f7c21c"/>
<circle cx="225.05" cy="506.88" r="2.1" fill="#f7c21c"/>
<circle cx="226.8" cy="504.83" r="2.1" fill="#f7c21c"/>
<circle cx="228.55" cy="504.56" r="2.1" fill="#f7c21c"/>
<circle cx="230.3" cy="505.55" r="2.1" fill="#f7c21c"/>
<circle cx="232.05" cy="505.6" r="2.1" fill="#f7c21c"/>
<circle cx="233.8" cy="504.89" r="2.1" fill="#f7c21c"/>
<circle cx="235.55" cy="505.39" r="2.1" fill="#f7c21c"/>
<circle cx="237.3" cy="507.18" r="2.1" fill="#f7c21c"/>
<circle cx="239.05" cy="506.66" r="2.1" fill="#f7c21c"/>
<circle cx="240.8" cy="504.45" r="2.1" fill="#f7c21c"/>
<circle cx="242.55" cy="504.64" r="2.1" fill="#f7c21c"/>
<circle cx="244.3" cy="506.69" r="2.1" fill="#f7c21c"/>
<circle cx="246.05" cy="507.59" r="2.1" fill="#f7c21c"/>
<circle cx="247.8" cy="507.6" r="2.1" fill="#f7c21c"/>
<circle cx="249.55" cy="506.49" r="2.1" fill="#f7c21c"/>
<circle cx="251.3" cy="505.22" r="2.1" fill="#f7c21c"/>
<circle cx="253.05" cy="504.57" r="2.1" fill="#f7c21c"/>
<circle cx="254.8" cy="503.63" r="2.1" fill="#f7c21c"/>
<circle cx="256.55" cy="504.08" r="2.1" fill="#f7c21c"/>
<circle cx="258.3" cy="505.37" r="2.1" fill="#f7c21c"/>
<circle cx="260.05" cy="505.61" r="2.1" fill="#f7c21c"/>
<circle cx="261.8" cy="505.08" r="2.1" fill="#f7c21c"/>
<circle cx="263.55" cy="505.3" r="2.1" fill="#f7c21c"/>
<circle cx="265.3" cy="505.95" r="2.1" fill="#f7c21c"/>
<circle cx="267.05" cy="506.21" r="2.1" fill="#f7c21c"/>
<circle cx="268.8" cy="506.33" r="2.1" fill="#f7c21c"/>
<path d="M45.2 331.8 L49.82 331.8 L54.44 331.8 L59.06 331.8 L63.68 331.8 L68.3 331.8 L72.92 331.8 L77.54 331.8 L82.16 331.8 L86.78 331.8 L91.4 331.8 L96.02 331.8 L98.4 332.2 L99.9 335.3 L105 489 L105.6 509.5 L106.8 511.05 L108.55 511.32 L110.3 512.37 L112.05 511.07 L113.8 508.71 L115.55 508.87 L117.3 510.26 L119.05 510.93 L120.8 511.22 L122.55 511.33 L124.3 511.23 L126.05 509.64 L127.8 508.67 L129.55 511.67 L131.3 514.05 L133.05 512.77 L134.8 511.49 L136.55 510.77 L138.3 507.54 L140.05 506.15 L141.8 508.3 L143.55 509.86 L145.3 510.52 L147.05 506.86 L148.8 503.41 L150.55 507.79 L152.3 512.86 L154.05 510.41 L155.8 507.01 L157.55 508.56 L159.3 511.82 L161.05 512.73 L162.8 513.35 L164.55 514.97 L166.3 513.93 L168.05 512.26 L169.8 513.87 L171.55 516.01 L173.3 515.7 L175.05 513.02 L176.8 509.62 L178.55 510.34 L180.3 512.07 L182.05 512.18 L183.8 513.52 L185.55 514.22 L187.3 513.27 L189.05 514.01 L190.8 517.32 L192.55 515.91 L194.3 511.88 L196.05 513.57 L197.8 516.15 L199.55 513.76 L201.3 513.46 L203.05 513.92 L204.8 510.83 L206.55 508.77 L208.3 510.58 L210.05 513.06 L211.8 514.49 L213.55 513.78 L215.3 512.69 L217.05 513.34 L218.8 513.18 L220.55 512.02 L222.3 511.08 L224.05 511.24 L225.8 511.13 L227.55 508.86 L229.3 508.64 L231.05 508.92 L232.8 507.52 L234.55 506.62 L236.3 505.7 L238.05 508.14 L239.8 512.07 L241.55 512.69 L243.3 511.22 L245.05 509.05 L246.8 509.65 L248.55 513.9 L250.3 514.99 L252.05 512.91 L253.8 510.07 L255.55 507.91 L257.3 507.81 L259.05 511.74 L260.8 511.83 L262.55 507.94 L264.3 509.62 L266.05 512.55 L268.6 509.5 L273.3 356.3 L278.1 350.8 L283 349 L287.8 347.6 L292.6 346.6 L302.3 345.1 L312 344.2 L324.6 343" fill="none" stroke="#e5252d" stroke-width="1.6" stroke-linejoin="round"/>
<circle cx="45.2" cy="331.8" r="2.2" fill="#e5252d"/>
<circle cx="49.82" cy="331.8" r="2.2" fill="#e5252d"/>
<circle cx="54.44" cy="331.8" r="2.2" fill="#e5252d"/>
<circle cx="59.06" cy="331.8" r="2.2" fill="#e5252d"/>
<circle cx="63.68" cy="331.8" r="2.2" fill="#e5252d"/>
<circle cx="68.3" cy="331.8" r="2.2" fill="#e5252d"/>
<circle cx="72.92" cy="331.8" r="2.2" fill="#e5252d"/>
<circle cx="77.54" cy="331.8" r="2.2" fill="#e5252d"/>
<circle cx="82.16" cy="331.8" r="2.2" fill="#e5252d"/>
<circle cx="86.78" cy="331.8" r="2.2" fill="#e5252d"/>
<circle cx="91.4" cy="331.8" r="2.2" fill="#e5252d"/>
<circle cx="96.02" cy="331.8" r="2.2" fill="#e5252d"/>
<circle cx="273.3" cy="356.3" r="2.2" fill="#e5252d"/>
<circle cx="277.9" cy="351.03" r="2.2" fill="#e5252d"/>
<circle cx="282.5" cy="349.18" r="2.2" fill="#e5252d"/>
<circle cx="287.1" cy="347.8" r="2.2" fill="#e5252d"/>
<circle cx="291.7" cy="346.79" r="2.2" fill="#e5252d"/>
<circle cx="296.3" cy="346.03" r="2.2" fill="#e5252d"/>
<circle cx="300.9" cy="345.32" r="2.2" fill="#e5252d"/>
<circle cx="305.5" cy="344.8" r="2.2" fill="#e5252d"/>
<circle cx="310.1" cy="344.38" r="2.2" fill="#e5252d"/>
<circle cx="314.7" cy="343.94" r="2.2" fill="#e5252d"/>
<circle cx="319.3" cy="343.5" r="2.2" fill="#e5252d"/>
<circle cx="323.9" cy="343.07" r="2.2" fill="#e5252d"/>
<path d="M106.8 511.05 L108.55 511.32 L110.3 512.37 L112.05 511.07 L113.8 508.71 L115.55 508.87 L117.3 510.26 L119.05 510.93 L120.8 511.22 L122.55 511.33 L124.3 511.23 L126.05 509.64 L127.8 508.67 L129.55 511.67 L131.3 514.05 L133.05 512.77 L134.8 511.49 L136.55 510.77 L138.3 507.54 L140.05 506.15 L141.8 508.3 L143.55 509.86 L145.3 510.52 L147.05 506.86 L148.8 503.41 L150.55 507.79 L152.3 512.86 L154.05 510.41 L155.8 507.01 L157.55 508.56 L159.3 511.82 L161.05 512.73 L162.8 513.35 L164.55 514.97 L166.3 513.93 L168.05 512.26 L169.8 513.87 L171.55 516.01 L173.3 515.7 L175.05 513.02 L176.8 509.62 L178.55 510.34 L180.3 512.07 L182.05 512.18 L183.8 513.52 L185.55 514.22 L187.3 513.27 L189.05 514.01 L190.8 517.32 L192.55 515.91 L194.3 511.88 L196.05 513.57 L197.8 516.15 L199.55 513.76 L201.3 513.46 L203.05 513.92 L204.8 510.83 L206.55 508.77 L208.3 510.58 L210.05 513.06 L211.8 514.49 L213.55 513.78 L215.3 512.69 L217.05 513.34 L218.8 513.18 L220.55 512.02 L222.3 511.08 L224.05 511.24 L225.8 511.13 L227.55 508.86 L229.3 508.64 L231.05 508.92 L232.8 507.52 L234.55 506.62 L236.3 505.7 L238.05 508.14 L239.8 512.07 L241.55 512.69 L243.3 511.22 L245.05 509.05 L246.8 509.65 L248.55 513.9 L250.3 514.99 L252.05 512.91 L253.8 510.07 L255.55 507.91 L257.3 507.81 L259.05 511.74 L260.8 511.83 L262.55 507.94 L264.3 509.62 L266.05 512.55" fill="none" stroke="#e5252d" stroke-width="2.2" stroke-linejoin="round"/>
<circle cx="106.8" cy="511.05" r="2.1" fill="#e5252d"/>
<circle cx="108.55" cy="511.32" r="2.1" fill="#e5252d"/>
<circle cx="110.3" cy="512.37" r="2.1" fill="#e5252d"/>
<circle cx="112.05" cy="511.07" r="2.1" fill="#e5252d"/>
<circle cx="113.8" cy="508.71" r="2.1" fill="#e5252d"/>
<circle cx="115.55" cy="508.87" r="2.1" fill="#e5252d"/>
<circle cx="117.3" cy="510.26" r="2.1" fill="#e5252d"/>
<circle cx="119.05" cy="510.93" r="2.1" fill="#e5252d"/>
<circle cx="120.8" cy="511.22" r="2.1" fill="#e5252d"/>
<circle cx="122.55" cy="511.33" r="2.1" fill="#e5252d"/>
<circle cx="124.3" cy="511.23" r="2.1" fill="#e5252d"/>
<circle cx="126.05" cy="509.64" r="2.1" fill="#e5252d"/>
<circle cx="127.8" cy="508.67" r="2.1" fill="#e5252d"/>
<circle cx="129.55" cy="511.67" r="2.1" fill="#e5252d"/>
<circle cx="131.3" cy="514.05" r="2.1" fill="#e5252d"/>
<circle cx="133.05" cy="512.77" r="2.1" fill="#e5252d"/>
<circle cx="134.8" cy="511.49" r="2.1" fill="#e5252d"/>
<circle cx="136.55" cy="510.77" r="2.1" fill="#e5252d"/>
<circle cx="138.3" cy="507.54" r="2.1" fill="#e5252d"/>
<circle cx="140.05" cy="506.15" r="2.1" fill="#e5252d"/>
<circle cx="141.8" cy="508.3" r="2.1" fill="#e5252d"/>
<circle cx="143.55" cy="509.86" r="2.1" fill="#e5252d"/>
<circle cx="145.3" cy="510.52" r="2.1" fill="#e5252d"/>
<circle cx="147.05" cy="506.86" r="2.1" fill="#e5252d"/>
<circle cx="148.8" cy="503.41" r="2.1" fill="#e5252d"/>
<circle cx="150.55" cy="507.79" r="2.1" fill="#e5252d"/>
<circle cx="152.3" cy="512.86" r="2.1" fill="#e5252d"/>
<circle cx="154.05" cy="510.41" r="2.1" fill="#e5252d"/>
<circle cx="155.8" cy="507.01" r="2.1" fill="#e5252d"/>
<circle cx="157.55" cy="508.56" r="2.1" fill="#e5252d"/>
<circle cx="159.3" cy="511.82" r="2.1" fill="#e5252d"/>
<circle cx="161.05" cy="512.73" r="2.1" fill="#e5252d"/>
<circle cx="162.8" cy="513.35" r="2.1" fill="#e5252d"/>
<circle cx="164.55" cy="514.97" r="2.1" fill="#e5252d"/>
<circle cx="166.3" cy="513.93" r="2.1" fill="#e5252d"/>
<circle cx="168.05" cy="512.26" r="2.1" fill="#e5252d"/>
<circle cx="169.8" cy="513.87" r="2.1" fill="#e5252d"/>
<circle cx="171.55" cy="516.01" r="2.1" fill="#e5252d"/>
<circle cx="173.3" cy="515.7" r="2.1" fill="#e5252d"/>
<circle cx="175.05" cy="513.02" r="2.1" fill="#e5252d"/>
<circle cx="176.8" cy="509.62" r="2.1" fill="#e5252d"/>
<circle cx="178.55" cy="510.34" r="2.1" fill="#e5252d"/>
<circle cx="180.3" cy="512.07" r="2.1" fill="#e5252d"/>
<circle cx="182.05" cy="512.18" r="2.1" fill="#e5252d"/>
<circle cx="183.8" cy="513.52" r="2.1" fill="#e5252d"/>
<circle cx="185.55" cy="514.22" r="2.1" fill="#e5252d"/>
<circle cx="187.3" cy="513.27" r="2.1" fill="#e5252d"/>
<circle cx="189.05" cy="514.01" r="2.1" fill="#e5252d"/>
<circle cx="190.8" cy="517.32" r="2.1" fill="#e5252d"/>
<circle cx="192.55" cy="515.91" r="2.1" fill="#e5252d"/>
<circle cx="194.3" cy="511.88" r="2.1" fill="#e5252d"/>
<circle cx="196.05" cy="513.57" r="2.1" fill="#e5252d"/>
<circle cx="197.8" cy="516.15" r="2.1" fill="#e5252d"/>
<circle cx="199.55" cy="513.76" r="2.1" fill="#e5252d"/>
<circle cx="201.3" cy="513.46" r="2.1" fill="#e5252d"/>
<circle cx="203.05" cy="513.92" r="2.1" fill="#e5252d"/>
<circle cx="204.8" cy="510.83" r="2.1" fill="#e5252d"/>
<circle cx="206.55" cy="508.77" r="2.1" fill="#e5252d"/>
<circle cx="208.3" cy="510.58" r="2.1" fill="#e5252d"/>
<circle cx="210.05" cy="513.06" r="2.1" fill="#e5252d"/>
<circle cx="211.8" cy="514.49" r="2.1" fill="#e5252d"/>
<circle cx="213.55" cy="513.78" r="2.1" fill="#e5252d"/>
<circle cx="215.3" cy="512.69" r="2.1" fill="#e5252d"/>
<circle cx="217.05" cy="513.34" r="2.1" fill="#e5252d"/>
<circle cx="218.8" cy="513.18" r="2.1" fill="#e5252d"/>
<circle cx="220.55" cy="512.02" r="2.1" fill="#e5252d"/>
<circle cx="222.3" cy="511.08" r="2.1" fill="#e5252d"/>
<circle cx="224.05" cy="511.24" r="2.1" fill="#e5252d"/>
<circle cx="225.8" cy="511.13" r="2.1" fill="#e5252d"/>
<circle cx="227.55" cy="508.86" r="2.1" fill="#e5252d"/>
<circle cx="229.3" cy="508.64" r="2.1" fill="#e5252d"/>
<circle cx="231.05" cy="508.92" r="2.1" fill="#e5252d"/>
<circle cx="232.8" cy="507.52" r="2.1" fill="#e5252d"/>
<circle cx="234.55" cy="506.62" r="2.1" fill="#e5252d"/>
<circle cx="236.3" cy="505.7" r="2.1" fill="#e5252d"/>
<circle cx="238.05" cy="508.14" r="2.1" fill="#e5252d"/>
<circle cx="239.8" cy="512.07" r="2.1" fill="#e5252d"/>
<circle cx="241.55" cy="512.69" r="2.1" fill="#e5252d"/>
<circle cx="243.3" cy="511.22" r="2.1" fill="#e5252d"/>
<circle cx="245.05" cy="509.05" r="2.1" fill="#e5252d"/>
<circle cx="246.8" cy="509.65" r="2.1" fill="#e5252d"/>
<circle cx="248.55" cy="513.9" r="2.1" fill="#e5252d"/>
<circle cx="250.3" cy="514.99" r="2.1" fill="#e5252d"/>
<circle cx="252.05" cy="512.91" r="2.1" fill="#e5252d"/>
<circle cx="253.8" cy="510.07" r="2.1" fill="#e5252d"/>
<circle cx="255.55" cy="507.91" r="2.1" fill="#e5252d"/>
<circle cx="257.3" cy="507.81" r="2.1" fill="#e5252d"/>
<circle cx="259.05" cy="511.74" r="2.1" fill="#e5252d"/>
<circle cx="260.8" cy="511.83" r="2.1" fill="#e5252d"/>
<circle cx="262.55" cy="507.94" r="2.1" fill="#e5252d"/>
<circle cx="264.3" cy="509.62" r="2.1" fill="#e5252d"/>
<circle cx="266.05" cy="512.55" r="2.1" fill="#e5252d"/>
<line x1="128.3" y1="343.1" x2="154" y2="343.1" stroke="#6b3fa6" stroke-width="1.8" />
<circle cx="141.2" cy="343.1" r="1.9" fill="#6b3fa6"/>
<text x="159.8" y="347.4" font-size="12.3" text-anchor="start" fill="#2e2e2e" font-family='"Liberation Sans", sans-serif' ><tspan font-style="italic">P</tspan> = 49 mW cm<tspan dy="-5.6" font-size="8">−2</tspan></text>
<line x1="128.3" y1="358.6" x2="154" y2="358.6" stroke="#2b5fb4" stroke-width="1.8" />
<circle cx="141.2" cy="358.6" r="1.9" fill="#2b5fb4"/>
<text x="159.8" y="362.9" font-size="12.3" text-anchor="start" fill="#2e2e2e" font-family='"Liberation Sans", sans-serif' ><tspan font-style="italic">P</tspan> = 116 mW cm<tspan dy="-5.6" font-size="8">−2</tspan></text>
<line x1="128.3" y1="374.4" x2="154" y2="374.4" stroke="#45b883" stroke-width="1.8" />
<circle cx="141.2" cy="374.4" r="1.9" fill="#45b883"/>
<text x="159.8" y="378.7" font-size="12.3" text-anchor="start" fill="#2e2e2e" font-family='"Liberation Sans", sans-serif' ><tspan font-style="italic">P</tspan> = 182 mW cm<tspan dy="-5.6" font-size="8">−2</tspan></text>
<line x1="128.3" y1="390.2" x2="154" y2="390.2" stroke="#f7c21c" stroke-width="1.8" />
<circle cx="141.2" cy="390.2" r="1.9" fill="#f7c21c"/>
<text x="159.8" y="394.5" font-size="12.3" text-anchor="start" fill="#2e2e2e" font-family='"Liberation Sans", sans-serif' ><tspan font-style="italic">P</tspan> = 310 mW cm<tspan dy="-5.6" font-size="8">−2</tspan></text>
<line x1="128.3" y1="406" x2="154" y2="406" stroke="#e5252d" stroke-width="1.8" />
<circle cx="141.2" cy="406.0" r="1.9" fill="#e5252d"/>
<text x="159.8" y="410.3" font-size="12.3" text-anchor="start" fill="#2e2e2e" font-family='"Liberation Sans", sans-serif' ><tspan font-style="italic">P</tspan> = 527 mW cm<tspan dy="-5.6" font-size="8">−2</tspan></text>
<text x="54.3" y="372.4" font-size="12" text-anchor="start" fill="#2e2e2e" font-family='"Liberation Sans", sans-serif' >UV ON</text>
<text x="275.7" y="492.6" font-size="12" text-anchor="start" fill="#2e2e2e" font-family='"Liberation Sans", sans-serif' >UV OFF</text>
<defs><marker id="ah" viewBox="0 0 10 10" refX="9" refY="5" markerWidth="5" markerHeight="5" orient="auto"><path d="M0 0 L10 5 L0 10 z" fill="#1a1a1a"/></marker></defs>
<line x1="85" y1="358.7" x2="95.8" y2="338.6" stroke="#1a1a1a" stroke-width="1.1" marker-end="url(#ah)"/>
<line x1="295.7" y1="496.6" x2="274.2" y2="507.4" stroke="#1a1a1a" stroke-width="1.1" marker-end="url(#ah)"/>
<path d="M398.3 313.5 H679.2 V537.2 H398.3" fill="none" stroke="#767676" stroke-width="1"/>
<line x1="402.2" y1="313.5" x2="402.2" y2="543.4" stroke="#767676" stroke-width="1" />
<line x1="396" y1="537.2" x2="402.2" y2="537.2" stroke="#767676" stroke-width="1" />
<text x="391" y="540.9" font-size="10.5" text-anchor="end" fill="#3a3a3a" font-family='"Liberation Sans", sans-serif' >10<tspan dy="-4.6" font-size="7">−4</tspan></text>
<line x1="398.6" y1="522.15" x2="402.2" y2="522.15" stroke="#767676" stroke-width="1" />
<line x1="398.6" y1="513.34" x2="402.2" y2="513.34" stroke="#767676" stroke-width="1" />
<line x1="398.6" y1="507.1" x2="402.2" y2="507.1" stroke="#767676" stroke-width="1" />
<line x1="398.6" y1="502.25" x2="402.2" y2="502.25" stroke="#767676" stroke-width="1" />
<line x1="398.6" y1="498.29" x2="402.2" y2="498.29" stroke="#767676" stroke-width="1" />
<line x1="398.6" y1="494.95" x2="402.2" y2="494.95" stroke="#767676" stroke-width="1" />
<line x1="398.6" y1="492.05" x2="402.2" y2="492.05" stroke="#767676" stroke-width="1" />
<line x1="398.6" y1="489.49" x2="402.2" y2="489.49" stroke="#767676" stroke-width="1" />
<line x1="396" y1="487.2" x2="402.2" y2="487.2" stroke="#767676" stroke-width="1" />
<text x="391" y="490.9" font-size="10.5" text-anchor="end" fill="#3a3a3a" font-family='"Liberation Sans", sans-serif' >10<tspan dy="-4.6" font-size="7">−3</tspan></text>
<line x1="398.6" y1="472.15" x2="402.2" y2="472.15" stroke="#767676" stroke-width="1" />
<line x1="398.6" y1="463.34" x2="402.2" y2="463.34" stroke="#767676" stroke-width="1" />
<line x1="398.6" y1="457.1" x2="402.2" y2="457.1" stroke="#767676" stroke-width="1" />
<line x1="398.6" y1="452.25" x2="402.2" y2="452.25" stroke="#767676" stroke-width="1" />
<line x1="398.6" y1="448.29" x2="402.2" y2="448.29" stroke="#767676" stroke-width="1" />
<line x1="398.6" y1="444.95" x2="402.2" y2="444.95" stroke="#767676" stroke-width="1" />
<line x1="398.6" y1="442.05" x2="402.2" y2="442.05" stroke="#767676" stroke-width="1" />
<line x1="398.6" y1="439.49" x2="402.2" y2="439.49" stroke="#767676" stroke-width="1" />
<line x1="396" y1="437.2" x2="402.2" y2="437.2" stroke="#767676" stroke-width="1" />
<text x="391" y="440.9" font-size="10.5" text-anchor="end" fill="#3a3a3a" font-family='"Liberation Sans", sans-serif' >10<tspan dy="-4.6" font-size="7">−2</tspan></text>
<line x1="398.6" y1="422.15" x2="402.2" y2="422.15" stroke="#767676" stroke-width="1" />
<line x1="398.6" y1="413.34" x2="402.2" y2="413.34" stroke="#767676" stroke-width="1" />
<line x1="398.6" y1="407.1" x2="402.2" y2="407.1" stroke="#767676" stroke-width="1" />
<line x1="398.6" y1="402.25" x2="402.2" y2="402.25" stroke="#767676" stroke-width="1" />
<line x1="398.6" y1="398.29" x2="402.2" y2="398.29" stroke="#767676" stroke-width="1" />
<line x1="398.6" y1="394.95" x2="402.2" y2="394.95" stroke="#767676" stroke-width="1" />
<line x1="398.6" y1="392.05" x2="402.2" y2="392.05" stroke="#767676" stroke-width="1" />
<line x1="398.6" y1="389.49" x2="402.2" y2="389.49" stroke="#767676" stroke-width="1" />
<line x1="396" y1="387.2" x2="402.2" y2="387.2" stroke="#767676" stroke-width="1" />
<text x="391" y="390.9" font-size="10.5" text-anchor="end" fill="#3a3a3a" font-family='"Liberation Sans", sans-serif' >10<tspan dy="-4.6" font-size="7">−1</tspan></text>
<line x1="398.6" y1="372.15" x2="402.2" y2="372.15" stroke="#767676" stroke-width="1" />
<line x1="398.6" y1="363.34" x2="402.2" y2="363.34" stroke="#767676" stroke-width="1" />
<line x1="398.6" y1="357.1" x2="402.2" y2="357.1" stroke="#767676" stroke-width="1" />
<line x1="398.6" y1="352.25" x2="402.2" y2="352.25" stroke="#767676" stroke-width="1" />
<line x1="398.6" y1="348.29" x2="402.2" y2="348.29" stroke="#767676" stroke-width="1" />
<line x1="398.6" y1="344.95" x2="402.2" y2="344.95" stroke="#767676" stroke-width="1" />
<line x1="398.6" y1="342.05" x2="402.2" y2="342.05" stroke="#767676" stroke-width="1" />
<line x1="398.6" y1="339.49" x2="402.2" y2="339.49" stroke="#767676" stroke-width="1" />
<line x1="396" y1="337.2" x2="402.2" y2="337.2" stroke="#767676" stroke-width="1" />
<text x="391" y="340.9" font-size="10.5" text-anchor="end" fill="#3a3a3a" font-family='"Liberation Sans", sans-serif' >10<tspan dy="-4.6" font-size="7">0</tspan></text>
<line x1="398.6" y1="322.15" x2="402.2" y2="322.15" stroke="#767676" stroke-width="1" />
<line x1="402.2" y1="537.2" x2="402.2" y2="543.4" stroke="#767676" stroke-width="1" />
<text x="402.2" y="558.2" font-size="10.5" text-anchor="middle" fill="#3a3a3a" font-family='"Liberation Sans", sans-serif' >0</text>
<line x1="447.75" y1="537.2" x2="447.75" y2="543.4" stroke="#767676" stroke-width="1" />
<text x="447.75" y="558.2" font-size="10.5" text-anchor="middle" fill="#3a3a3a" font-family='"Liberation Sans", sans-serif' >25</text>
<line x1="493.3" y1="537.2" x2="493.3" y2="543.4" stroke="#767676" stroke-width="1" />
<text x="493.3" y="558.2" font-size="10.5" text-anchor="middle" fill="#3a3a3a" font-family='"Liberation Sans", sans-serif' >50</text>
<line x1="538.85" y1="537.2" x2="538.85" y2="543.4" stroke="#767676" stroke-width="1" />
<text x="538.85" y="558.2" font-size="10.5" text-anchor="middle" fill="#3a3a3a" font-family='"Liberation Sans", sans-serif' >75</text>
<line x1="584.4" y1="537.2" x2="584.4" y2="543.4" stroke="#767676" stroke-width="1" />
<text x="584.4" y="558.2" font-size="10.5" text-anchor="middle" fill="#3a3a3a" font-family='"Liberation Sans", sans-serif' >100</text>
<line x1="629.95" y1="537.2" x2="629.95" y2="543.4" stroke="#767676" stroke-width="1" />
<text x="629.95" y="558.2" font-size="10.5" text-anchor="middle" fill="#3a3a3a" font-family='"Liberation Sans", sans-serif' >125</text>
<line x1="675.5" y1="537.2" x2="675.5" y2="543.4" stroke="#767676" stroke-width="1" />
<text x="675.5" y="558.2" font-size="10.5" text-anchor="middle" fill="#3a3a3a" font-family='"Liberation Sans", sans-serif' >150</text>
<text x="541.5" y="576.2" font-size="11.2" text-anchor="middle" fill="#3a3a3a" font-family='"Liberation Sans", sans-serif' ><tspan font-style="italic">T</tspan> (K)</text>
<text transform="translate(362.8 425) rotate(-90)" font-size="12" text-anchor="middle" fill="#3a3a3a" font-family='"Liberation Sans", sans-serif'><tspan font-style="italic">R</tspan>/<tspan font-style="italic">R</tspan> (<tspan font-style="italic">T</tspan> = 120 K)</text>
<text x="403.3" y="331.6" font-size="11.8" text-anchor="start" fill="#2e2e2e" font-family='"Liberation Sans", sans-serif' ><tspan font-style="italic">P</tspan> = 116 mW cm<tspan dy="-5.3" font-size="8">−2</tspan></text>
<path d="M421.32 337.16 L430.43 337.16 L439.54 337.82 L448.65 338.63 L457.76 339.21 L466.87 339.61 L475.98 339.77 L485.09 339.8 L494.2 339.77 L503.31 339.66 L512.42 339.51 L521.53 339.32 L530.64 339.04 L539.75 338.84 L548.86 338.65 L557.97 338.4 L567.08 338.18 L576.19 338 L585.3 337.83 L594.41 337.65 L603.52 337.5 L612.63 337.33 L621.74 337.2 L630.85 337.03 L639.96 336.9 L649.07 336.78 L658.18 336.65 L667.29 336.57 L676.4 336.49" fill="none" stroke="#222" stroke-width="1" stroke-dasharray="1.2 2"/>
<rect x="418.87" y="334.71" width="4.9" height="4.9" fill="#1a1a1a"/>
<rect x="427.98" y="334.71" width="4.9" height="4.9" fill="#1a1a1a"/>
<rect x="437.09" y="335.37" width="4.9" height="4.9" fill="#1a1a1a"/>
<rect x="446.2" y="336.18" width="4.9" height="4.9" fill="#1a1a1a"/>
<rect x="455.31" y="336.76" width="4.9" height="4.9" fill="#1a1a1a"/>
<rect x="464.42" y="337.16" width="4.9" height="4.9" fill="#1a1a1a"/>
<rect x="473.53" y="337.32" width="4.9" height="4.9" fill="#1a1a1a"/>
<rect x="482.64" y="337.35" width="4.9" height="4.9" fill="#1a1a1a"/>
<rect x="491.75" y="337.32" width="4.9" height="4.9" fill="#1a1a1a"/>
<rect x="500.86" y="337.21" width="4.9" height="4.9" fill="#1a1a1a"/>
<rect x="509.97" y="337.06" width="4.9" height="4.9" fill="#1a1a1a"/>
<rect x="519.08" y="336.87" width="4.9" height="4.9" fill="#1a1a1a"/>
<rect x="528.19" y="336.59" width="4.9" height="4.9" fill="#1a1a1a"/>
<rect x="537.3" y="336.39" width="4.9" height="4.9" fill="#1a1a1a"/>
<rect x="546.41" y="336.2" width="4.9" height="4.9" fill="#1a1a1a"/>
<rect x="555.52" y="335.95" width="4.9" height="4.9" fill="#1a1a1a"/>
<rect x="564.63" y="335.73" width="4.9" height="4.9" fill="#1a1a1a"/>
<rect x="573.74" y="335.55" width="4.9" height="4.9" fill="#1a1a1a"/>
<rect x="582.85" y="335.38" width="4.9" height="4.9" fill="#1a1a1a"/>
<rect x="591.96" y="335.2" width="4.9" height="4.9" fill="#1a1a1a"/>
<rect x="601.07" y="335.05" width="4.9" height="4.9" fill="#1a1a1a"/>
<rect x="610.18" y="334.88" width="4.9" height="4.9" fill="#1a1a1a"/>
<rect x="619.29" y="334.75" width="4.9" height="4.9" fill="#1a1a1a"/>
<rect x="628.4" y="334.58" width="4.9" height="4.9" fill="#1a1a1a"/>
<rect x="637.51" y="334.45" width="4.9" height="4.9" fill="#1a1a1a"/>
<rect x="646.62" y="334.33" width="4.9" height="4.9" fill="#1a1a1a"/>
<rect x="655.73" y="334.2" width="4.9" height="4.9" fill="#1a1a1a"/>
<rect x="664.84" y="334.12" width="4.9" height="4.9" fill="#1a1a1a"/>
<rect x="673.95" y="334.04" width="4.9" height="4.9" fill="#1a1a1a"/>
<path d="M421.32 516.8 L430.43 507.1 L439.54 499.6 L448.65 489.7 L457.76 478.6 L466.87 469.5 L475.98 457.9 L485.09 445.2 L494.2 435.5 L503.31 428.6 L512.42 423.1 L521.53 417.9 L530.64 412.3 L539.75 406.8 L548.86 400.2 L557.97 391.2 L567.08 379.8 L576.19 365.5 L585.3 355.6 L594.41 339.4 L603.52 337.6 L612.63 337 L621.74 336.5 L630.85 336 L639.96 335.4 L649.07 334.8 L658.18 334.2 L667.29 333.5 L676.4 332.8" fill="none" stroke="#e8454b" stroke-width="1.2"/>
<circle cx="421.32" cy="516.8" r="2.9" fill="#e8454b"/>
<circle cx="430.43" cy="507.1" r="2.9" fill="#e8454b"/>
<circle cx="439.54" cy="499.6" r="2.9" fill="#e8454b"/>
<circle cx="448.65" cy="489.7" r="2.9" fill="#e8454b"/>
<circle cx="457.76" cy="478.6" r="2.9" fill="#e8454b"/>
<circle cx="466.87" cy="469.5" r="2.9" fill="#e8454b"/>
<circle cx="475.98" cy="457.9" r="2.9" fill="#e8454b"/>
<circle cx="485.09" cy="445.2" r="2.9" fill="#e8454b"/>
<circle cx="494.2" cy="435.5" r="2.9" fill="#e8454b"/>
<circle cx="503.31" cy="428.6" r="2.9" fill="#e8454b"/>
<circle cx="512.42" cy="423.1" r="2.9" fill="#e8454b"/>
<circle cx="521.53" cy="417.9" r="2.9" fill="#e8454b"/>
<circle cx="530.64" cy="412.3" r="2.9" fill="#e8454b"/>
<circle cx="539.75" cy="406.8" r="2.9" fill="#e8454b"/>
<circle cx="548.86" cy="400.2" r="2.9" fill="#e8454b"/>
<circle cx="557.97" cy="391.2" r="2.9" fill="#e8454b"/>
<circle cx="567.08" cy="379.8" r="2.9" fill="#e8454b"/>
<circle cx="576.19" cy="365.5" r="2.9" fill="#e8454b"/>
<circle cx="585.3" cy="355.6" r="2.9" fill="#e8454b"/>
<circle cx="594.41" cy="339.4" r="2.9" fill="#e8454b"/>
<circle cx="603.52" cy="337.6" r="2.9" fill="#e8454b"/>
<circle cx="612.63" cy="337" r="2.9" fill="#e8454b"/>
<circle cx="621.74" cy="336.5" r="2.9" fill="#e8454b"/>
<circle cx="630.85" cy="336" r="2.9" fill="#e8454b"/>
<circle cx="639.96" cy="335.4" r="2.9" fill="#e8454b"/>
<circle cx="649.07" cy="334.8" r="2.9" fill="#e8454b"/>
<circle cx="658.18" cy="334.2" r="2.9" fill="#e8454b"/>
<circle cx="667.29" cy="333.5" r="2.9" fill="#e8454b"/>
<circle cx="676.4" cy="332.8" r="2.9" fill="#e8454b"/>
<path d="M421.32 366.4 L421.96 366.38 L422.6 366.3 L423.23 366.15 L423.87 365.93 L424.51 365.64 L425.15 365.26 L425.78 364.8 L426.42 364.26 L427.06 363.62 L427.7 362.9 L428.33 362.08 L428.97 361.17 L429.61 360.16 L430.25 359.05 L430.89 357.85 L431.52 356.54 L432.16 355.14 L432.8 353.63 L433.44 352.02 L434.07 351.16 L434.71 352.43 L435.35 353.69 L435.99 354.95 L436.62 356.22 L437.26 357.48 L437.9 358.75 L438.54 360.01 L439.18 361.28 L448.65 363.7 L457.76 362.9 L466.87 362.1 L475.98 361.2 L485.09 359.9 L494.2 358.5 L503.31 356.8 L512.42 355.2 L521.53 353.3 L530.64 351.3 L539.75 349.5 L548.86 347.6 L557.97 346.1 L567.08 344.7 L576.19 343.7 L585.3 342.9 L594.41 341.7 L603.52 340.7 L612.63 339.9 L621.74 339.2 L630.85 338.4 L639.96 337.9 L649.07 337.5 L658.18 337 L667.29 336.3 L676.4 335.7" fill="none" stroke="#2a66b8" stroke-width="1" stroke-dasharray="1.5 1.5"/>
<path d="M421.32 363.3 L424.57 368.72 L418.06 368.72Z" fill="#2a66b8"/>
<path d="M421.96 363.28 L425.21 368.7 L418.7 368.7Z" fill="#2a66b8"/>
<path d="M422.6 363.2 L425.85 368.62 L419.34 368.62Z" fill="#2a66b8"/>
<path d="M423.23 363.05 L426.49 368.48 L419.98 368.48Z" fill="#2a66b8"/>
<path d="M423.87 362.83 L427.13 368.26 L420.62 368.26Z" fill="#2a66b8"/>
<path d="M424.51 362.54 L427.76 367.96 L421.25 367.96Z" fill="#2a66b8"/>
<path d="M425.15 362.16 L428.4 367.59 L421.89 367.59Z" fill="#2a66b8"/>
<path d="M425.78 361.7 L429.04 367.13 L422.53 367.13Z" fill="#2a66b8"/>
<path d="M426.42 361.16 L429.68 366.58 L423.17 366.58Z" fill="#2a66b8"/>
<path d="M427.06 360.52 L430.31 365.95 L423.8 365.95Z" fill="#2a66b8"/>
<path d="M427.7 359.8 L430.95 365.22 L424.44 365.22Z" fill="#2a66b8"/>
<path d="M428.33 358.98 L431.59 364.4 L425.08 364.4Z" fill="#2a66b8"/>
<path d="M428.97 358.07 L432.23 363.49 L425.72 363.49Z" fill="#2a66b8"/>
<path d="M429.61 357.06 L432.87 362.48 L426.36 362.48Z" fill="#2a66b8"/>
<path d="M430.25 355.95 L433.5 361.38 L426.99 361.38Z" fill="#2a66b8"/>
<path d="M430.89 354.75 L434.14 360.17 L427.63 360.17Z" fill="#2a66b8"/>
<path d="M431.52 353.44 L434.78 358.87 L428.27 358.87Z" fill="#2a66b8"/>
<path d="M432.16 352.04 L435.42 357.46 L428.91 357.46Z" fill="#2a66b8"/>
<path d="M432.8 350.53 L436.05 355.95 L429.54 355.95Z" fill="#2a66b8"/>
<path d="M433.44 348.92 L436.69 354.34 L430.18 354.34Z" fill="#2a66b8"/>
<path d="M434.07 348.06 L437.33 353.49 L430.82 353.49Z" fill="#2a66b8"/>
<path d="M434.71 349.33 L437.97 354.75 L431.46 354.75Z" fill="#2a66b8"/>
<path d="M435.35 350.59 L438.6 356.02 L432.09 356.02Z" fill="#2a66b8"/>
<path d="M435.99 351.85 L439.24 357.28 L432.73 357.28Z" fill="#2a66b8"/>
<path d="M436.62 353.12 L439.88 358.54 L433.37 358.54Z" fill="#2a66b8"/>
<path d="M437.26 354.38 L440.52 359.81 L434.01 359.81Z" fill="#2a66b8"/>
<path d="M437.9 355.65 L441.16 361.07 L434.65 361.07Z" fill="#2a66b8"/>
<path d="M438.54 356.91 L441.79 362.34 L435.28 362.34Z" fill="#2a66b8"/>
<path d="M439.18 358.18 L442.43 363.6 L435.92 363.6Z" fill="#2a66b8"/>
<path d="M448.65 360.6 L451.9 366.02 L445.39 366.02Z" fill="#2a66b8"/>
<path d="M457.76 359.8 L461.01 365.22 L454.5 365.22Z" fill="#2a66b8"/>
<path d="M466.87 359 L470.12 364.42 L463.61 364.42Z" fill="#2a66b8"/>
<path d="M475.98 358.1 L479.23 363.52 L472.72 363.52Z" fill="#2a66b8"/>
<path d="M485.09 356.8 L488.34 362.22 L481.83 362.22Z" fill="#2a66b8"/>
<path d="M494.2 355.4 L497.45 360.82 L490.94 360.82Z" fill="#2a66b8"/>
<path d="M503.31 353.7 L506.56 359.12 L500.05 359.12Z" fill="#2a66b8"/>
<path d="M512.42 352.1 L515.67 357.52 L509.16 357.52Z" fill="#2a66b8"/>
<path d="M521.53 350.2 L524.78 355.62 L518.27 355.62Z" fill="#2a66b8"/>
<path d="M530.64 348.2 L533.89 353.62 L527.38 353.62Z" fill="#2a66b8"/>
<path d="M539.75 346.4 L543 351.82 L536.5 351.82Z" fill="#2a66b8"/>
<path d="M548.86 344.5 L552.12 349.92 L545.61 349.92Z" fill="#2a66b8"/>
<path d="M557.97 343 L561.22 348.42 L554.71 348.42Z" fill="#2a66b8"/>
<path d="M567.08 341.6 L570.34 347.02 L563.83 347.02Z" fill="#2a66b8"/>
<path d="M576.19 340.6 L579.44 346.02 L572.93 346.02Z" fill="#2a66b8"/>
<path d="M585.3 339.8 L588.55 345.22 L582.04 345.22Z" fill="#2a66b8"/>
<path d="M594.41 338.6 L597.66 344.02 L591.15 344.02Z" fill="#2a66b8"/>
<path d="M603.52 337.6 L606.77 343.02 L600.26 343.02Z" fill="#2a66b8"/>
<path d="M612.63 336.8 L615.88 342.22 L609.38 342.22Z" fill="#2a66b8"/>
<path d="M621.74 336.1 L625 341.52 L618.49 341.52Z" fill="#2a66b8"/>
<path d="M630.85 335.3 L634.11 340.72 L627.6 340.72Z" fill="#2a66b8"/>
<path d="M639.96 334.8 L643.21 340.22 L636.7 340.22Z" fill="#2a66b8"/>
<path d="M649.07 334.4 L652.32 339.82 L645.81 339.82Z" fill="#2a66b8"/>
<path d="M658.18 333.9 L661.43 339.32 L654.92 339.32Z" fill="#2a66b8"/>
<path d="M667.29 333.2 L670.54 338.62 L664.03 338.62Z" fill="#2a66b8"/>
<path d="M676.4 332.6 L679.65 338.02 L673.14 338.02Z" fill="#2a66b8"/>
<path d="M421.32 362.32 L421.78 362.24 L422.23 362.57 L422.69 362.74 L423.14 362.3 L423.6 362.97 L424.05 363.02 L424.51 363.17 L424.96 363.15 L425.42 363.5 L425.87 363.28 L426.33 361.99 L426.79 362.35 L427.24 362.02 L427.7 361.96 L428.15 362.41 L428.61 362.4 L429.06 362.6 L429.52 361.51 L429.97 361.63 L430.43 362.19 L430.89 362.05 L431.34 361.94 L431.8 362.02 L432.25 361.62 L432.71 362.3 L433.16 362.08 L433.62 361.81 L434.07 361.46 L434.53 361.66 L434.98 360.34 L435.44 361.16 L435.9 361.62 L436.35 360.8 L436.81 361.6 L437.26 361.52 L437.72 360.71 L438.17 361.22 L438.63 361.14 L439.08 361.48 L439.54 361.51 L448.65 361.8 L457.76 361 L466.87 360.2 L475.98 359.3 L485.09 358 L494.2 356.6 L503.31 354.9 L512.42 353.3 L521.53 351.4 L530.64 349.4 L539.75 347.6 L548.86 345.7 L557.97 344.2 L567.08 342.8 L576.19 341.8 L585.3 341 L594.41 339.8 L603.52 338.8 L612.63 338 L621.74 337.3 L630.85 336.5 L639.96 336 L649.07 335.6 L658.18 335.1 L667.29 334.4 L676.4 333.8" fill="none" stroke="#1f9e68" stroke-width="1" stroke-dasharray="1.5 1.5"/>
<path d="M421.32 365.42 L424.57 359.99 L418.06 359.99Z" fill="#1f9e68"/>
<path d="M421.78 365.34 L425.03 359.91 L418.52 359.91Z" fill="#1f9e68"/>
<path d="M422.23 365.67 L425.49 360.24 L418.98 360.24Z" fill="#1f9e68"/>
<path d="M422.69 365.84 L425.94 360.41 L419.43 360.41Z" fill="#1f9e68"/>
<path d="M423.14 365.4 L426.4 359.97 L419.89 359.97Z" fill="#1f9e68"/>
<path d="M423.6 366.07 L426.85 360.64 L420.34 360.64Z" fill="#1f9e68"/>
<path d="M424.05 366.12 L427.31 360.7 L420.8 360.7Z" fill="#1f9e68"/>
<path d="M424.51 366.27 L427.76 360.84 L421.25 360.84Z" fill="#1f9e68"/>
<path d="M424.96 366.25 L428.22 360.83 L421.71 360.83Z" fill="#1f9e68"/>
<path d="M425.42 366.6 L428.67 361.18 L422.16 361.18Z" fill="#1f9e68"/>
<path d="M425.87 366.38 L429.13 360.96 L422.62 360.96Z" fill="#1f9e68"/>
<path d="M426.33 365.09 L429.59 359.67 L423.08 359.67Z" fill="#1f9e68"/>
<path d="M426.79 365.45 L430.04 360.02 L423.53 360.02Z" fill="#1f9e68"/>
<path d="M427.24 365.12 L430.5 359.69 L423.99 359.69Z" fill="#1f9e68"/>
<path d="M427.7 365.06 L430.95 359.64 L424.44 359.64Z" fill="#1f9e68"/>
<path d="M428.15 365.51 L431.41 360.08 L424.9 360.08Z" fill="#1f9e68"/>
<path d="M428.61 365.5 L431.86 360.08 L425.35 360.08Z" fill="#1f9e68"/>
<path d="M429.06 365.7 L432.32 360.27 L425.81 360.27Z" fill="#1f9e68"/>
<path d="M429.52 364.61 L432.77 359.18 L426.26 359.18Z" fill="#1f9e68"/>
<path d="M429.97 364.73 L433.23 359.31 L426.72 359.31Z" fill="#1f9e68"/>
<path d="M430.43 365.29 L433.68 359.86 L427.17 359.86Z" fill="#1f9e68"/>
<path d="M430.89 365.15 L434.14 359.73 L427.63 359.73Z" fill="#1f9e68"/>
<path d="M431.34 365.04 L434.6 359.62 L428.09 359.62Z" fill="#1f9e68"/>
<path d="M431.8 365.12 L435.05 359.69 L428.54 359.69Z" fill="#1f9e68"/>
<path d="M432.25 364.72 L435.51 359.3 L429 359.3Z" fill="#1f9e68"/>
<path d="M432.71 365.4 L435.96 359.98 L429.45 359.98Z" fill="#1f9e68"/>
<path d="M433.16 365.18 L436.42 359.75 L429.91 359.75Z" fill="#1f9e68"/>
<path d="M433.62 364.91 L436.87 359.48 L430.36 359.48Z" fill="#1f9e68"/>
<path d="M434.07 364.56 L437.33 359.14 L430.82 359.14Z" fill="#1f9e68"/>
<path d="M434.53 364.76 L437.78 359.34 L431.27 359.34Z" fill="#1f9e68"/>
<path d="M434.98 363.44 L438.24 358.01 L431.73 358.01Z" fill="#1f9e68"/>
<path d="M435.44 364.26 L438.7 358.83 L432.19 358.83Z" fill="#1f9e68"/>
<path d="M435.9 364.72 L439.15 359.29 L432.64 359.29Z" fill="#1f9e68"/>
<path d="M436.35 363.9 L439.61 358.47 L433.1 358.47Z" fill="#1f9e68"/>
<path d="M436.81 364.7 L440.06 359.27 L433.55 359.27Z" fill="#1f9e68"/>
<path d="M437.26 364.62 L440.52 359.2 L434.01 359.2Z" fill="#1f9e68"/>
<path d="M437.72 363.81 L440.97 358.39 L434.46 358.39Z" fill="#1f9e68"/>
<path d="M438.17 364.32 L441.43 358.9 L434.92 358.9Z" fill="#1f9e68"/>
<path d="M438.63 364.24 L441.88 358.82 L435.37 358.82Z" fill="#1f9e68"/>
<path d="M439.08 364.58 L442.34 359.15 L435.83 359.15Z" fill="#1f9e68"/>
<path d="M439.54 364.61 L442.79 359.18 L436.28 359.18Z" fill="#1f9e68"/>
<path d="M448.65 364.9 L451.9 359.48 L445.39 359.48Z" fill="#1f9e68"/>
<path d="M457.76 364.1 L461.01 358.68 L454.5 358.68Z" fill="#1f9e68"/>
<path d="M466.87 363.3 L470.12 357.88 L463.61 357.88Z" fill="#1f9e68"/>
<path d="M475.98 362.4 L479.23 356.98 L472.72 356.98Z" fill="#1f9e68"/>
<path d="M485.09 361.1 L488.34 355.68 L481.83 355.68Z" fill="#1f9e68"/>
<path d="M494.2 359.7 L497.45 354.28 L490.94 354.28Z" fill="#1f9e68"/>
<path d="M503.31 358 L506.56 352.57 L500.05 352.57Z" fill="#1f9e68"/>
<path d="M512.42 356.4 L515.67 350.98 L509.16 350.98Z" fill="#1f9e68"/>
<path d="M521.53 354.5 L524.78 349.07 L518.27 349.07Z" fill="#1f9e68"/>
<path d="M530.64 352.5 L533.89 347.07 L527.38 347.07Z" fill="#1f9e68"/>
<path d="M539.75 350.7 L543 345.28 L536.5 345.28Z" fill="#1f9e68"/>
<path d="M548.86 348.8 L552.12 343.38 L545.61 343.38Z" fill="#1f9e68"/>
<path d="M557.97 347.3 L561.22 341.88 L554.71 341.88Z" fill="#1f9e68"/>
<path d="M567.08 345.9 L570.34 340.48 L563.83 340.48Z" fill="#1f9e68"/>
<path d="M576.19 344.9 L579.44 339.48 L572.93 339.48Z" fill="#1f9e68"/>
<path d="M585.3 344.1 L588.55 338.68 L582.04 338.68Z" fill="#1f9e68"/>
<path d="M594.41 342.9 L597.66 337.48 L591.15 337.48Z" fill="#1f9e68"/>
<path d="M603.52 341.9 L606.77 336.48 L600.26 336.48Z" fill="#1f9e68"/>
<path d="M612.63 341.1 L615.88 335.68 L609.38 335.68Z" fill="#1f9e68"/>
<path d="M621.74 340.4 L625 334.98 L618.49 334.98Z" fill="#1f9e68"/>
<path d="M630.85 339.6 L634.11 334.18 L627.6 334.18Z" fill="#1f9e68"/>
<path d="M639.96 339.1 L643.21 333.68 L636.7 333.68Z" fill="#1f9e68"/>
<path d="M649.07 338.7 L652.32 333.28 L645.81 333.28Z" fill="#1f9e68"/>
<path d="M658.18 338.2 L661.43 332.78 L654.92 332.78Z" fill="#1f9e68"/>
<path d="M667.29 337.5 L670.54 332.07 L664.03 332.07Z" fill="#1f9e68"/>
<path d="M676.4 336.9 L679.65 331.48 L673.14 331.48Z" fill="#1f9e68"/>
<line x1="545.9" y1="480.2" x2="572.2" y2="480.2" stroke="#1a1a1a" stroke-width="1.2" />
<rect x="556.6" y="477.8" width="4.8" height="4.8" fill="#1a1a1a"/>
<text x="578.1" y="484.5" font-size="12.3" text-anchor="start" fill="#2a2a2a" font-family='"Liberation Sans", sans-serif' ><tspan textLength="86.8" lengthAdjust="spacingAndGlyphs">No illumination</tspan></text>
<line x1="545.9" y1="496.1" x2="572.2" y2="496.1" stroke="#e8454b" stroke-width="1.2" />
<circle cx="559" cy="496.1" r="2.9" fill="#e8454b"/>
<text x="578.1" y="500.4" font-size="12.3" text-anchor="start" fill="#2a2a2a" font-family='"Liberation Sans", sans-serif' ><tspan font-family='"Liberation Serif", serif' font-style="italic" font-size="14">λ</tspan> = 365 nm</text>
<line x1="545.9" y1="511.3" x2="572.2" y2="511.3" stroke="#2a66b8" stroke-width="1.2" />
<path d="M559 508.7 L562.25 514.12 L555.75 514.12Z" fill="#2a66b8"/>
<text x="578.1" y="515.6" font-size="12.3" text-anchor="start" fill="#2a2a2a" font-family='"Liberation Sans", sans-serif' ><tspan font-family='"Liberation Serif", serif' font-style="italic" font-size="14">λ</tspan> = 405 nm</text>
<line x1="545.9" y1="527.4" x2="572.2" y2="527.4" stroke="#1f9e68" stroke-width="1.2" />
<path d="M559 530 L562.25 524.57 L555.75 524.57Z" fill="#1f9e68"/>
<text x="578.1" y="531.7" font-size="12.3" text-anchor="start" fill="#2a2a2a" font-family='"Liberation Sans", sans-serif' ><tspan font-family='"Liberation Serif", serif' font-style="italic" font-size="14">λ</tspan> = 455 nm</text>
</svg>
</body></html>
